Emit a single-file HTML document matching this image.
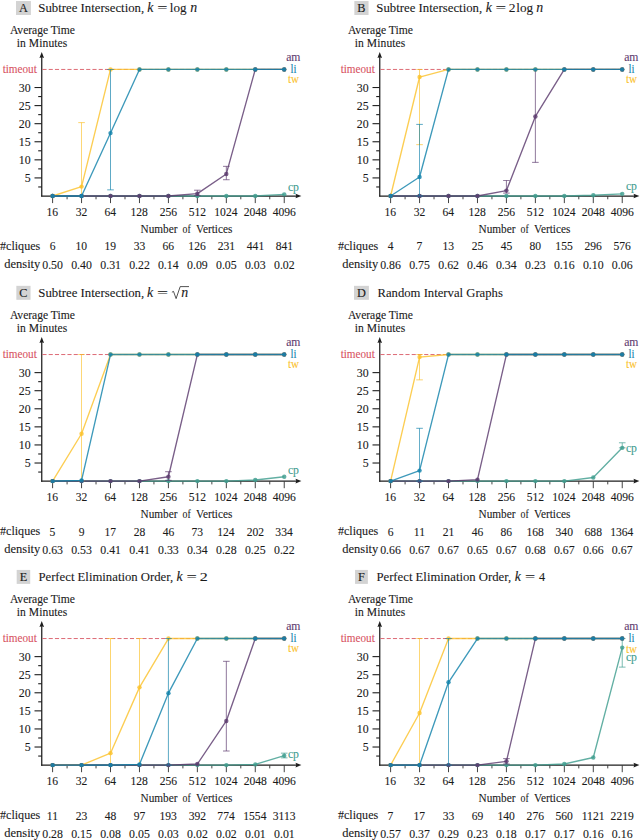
<!DOCTYPE html>
<html><head><meta charset="utf-8"><style>
html,body{margin:0;padding:0;background:#fff;width:640px;height:840px;overflow:hidden}
svg{display:block}
text{font-family:"Liberation Serif", serif}
</style></head><body>
<svg width="640" height="840" viewBox="0 0 640 840" fill="#1a1a1a">
<rect x="16.01" y="1.03" width="14.88" height="13.97" fill="#d3d3d3"/>
<text x="23.45" y="11.8" font-size="12.3" text-anchor="middle" stroke="#1a1a1a" stroke-width="0.12">A</text>
<text x="38.34" y="12" font-size="13.2" textLength="105.86" lengthAdjust="spacingAndGlyphs" stroke="#1a1a1a" stroke-width="0.1">Subtree Intersection,</text>
<text x="147.27" y="12" font-size="13.86" textLength="6.15" lengthAdjust="spacingAndGlyphs" font-style="italic" stroke="#1a1a1a" stroke-width="0.1">k</text>
<text x="157.3" y="12" font-size="13.2" textLength="10.19" lengthAdjust="spacingAndGlyphs" stroke="#1a1a1a" stroke-width="0.1">=</text>
<text x="169.84" y="12" font-size="13.2" textLength="16.73" lengthAdjust="spacingAndGlyphs" stroke="#1a1a1a" stroke-width="0.1">log</text>
<text x="190.14" y="12" font-size="13.86" textLength="6.93" lengthAdjust="spacingAndGlyphs" font-style="italic" stroke="#1a1a1a" stroke-width="0.1">n</text>
<text x="9.88" y="34.1" font-size="11.6" textLength="64.92" lengthAdjust="spacing" stroke="#1a1a1a" stroke-width="0.1">Average Time</text>
<text x="16.66" y="46.7" font-size="11.6" textLength="50.66" lengthAdjust="spacing" stroke="#1a1a1a" stroke-width="0.1">in Minutes</text>
<line x1="41.75" y1="196.6" x2="41.75" y2="56" stroke="#1e1e1e" stroke-width="1.25"/>
<path d="M41.75 52 L39.45 58 L41.75 57.2 L44.05 58 Z" fill="#1e1e1e"/>
<line x1="41.15" y1="196" x2="297" y2="196" stroke="#1e1e1e" stroke-width="1.25"/>
<path d="M301.4 196 L295.5 193.7 L296.3 196 L295.5 198.3 Z" fill="#1e1e1e"/>
<line x1="38.2" y1="186.96" x2="41.75" y2="186.96" stroke="#1e1e1e" stroke-width="1.1"/>
<line x1="34.5" y1="177.92" x2="41.75" y2="177.92" stroke="#1e1e1e" stroke-width="1.1"/>
<text x="24.69" y="182.12" font-size="12.9" textLength="5.93" lengthAdjust="spacingAndGlyphs" stroke="#1a1a1a" stroke-width="0.1">5</text>
<line x1="38.2" y1="168.88" x2="41.75" y2="168.88" stroke="#1e1e1e" stroke-width="1.1"/>
<line x1="34.5" y1="159.84" x2="41.75" y2="159.84" stroke="#1e1e1e" stroke-width="1.1"/>
<text x="18.73" y="164.04" font-size="12.9" textLength="11.87" lengthAdjust="spacingAndGlyphs" stroke="#1a1a1a" stroke-width="0.1">10</text>
<line x1="38.2" y1="150.8" x2="41.75" y2="150.8" stroke="#1e1e1e" stroke-width="1.1"/>
<line x1="34.5" y1="141.76" x2="41.75" y2="141.76" stroke="#1e1e1e" stroke-width="1.1"/>
<text x="18.76" y="145.96" font-size="12.9" textLength="11.87" lengthAdjust="spacingAndGlyphs" stroke="#1a1a1a" stroke-width="0.1">15</text>
<line x1="38.2" y1="132.72" x2="41.75" y2="132.72" stroke="#1e1e1e" stroke-width="1.1"/>
<line x1="34.5" y1="123.68" x2="41.75" y2="123.68" stroke="#1e1e1e" stroke-width="1.1"/>
<text x="18.73" y="127.88" font-size="12.9" textLength="11.87" lengthAdjust="spacingAndGlyphs" stroke="#1a1a1a" stroke-width="0.1">20</text>
<line x1="38.2" y1="114.64" x2="41.75" y2="114.64" stroke="#1e1e1e" stroke-width="1.1"/>
<line x1="34.5" y1="105.6" x2="41.75" y2="105.6" stroke="#1e1e1e" stroke-width="1.1"/>
<text x="18.76" y="109.8" font-size="12.9" textLength="11.87" lengthAdjust="spacingAndGlyphs" stroke="#1a1a1a" stroke-width="0.1">25</text>
<line x1="38.2" y1="96.56" x2="41.75" y2="96.56" stroke="#1e1e1e" stroke-width="1.1"/>
<line x1="34.5" y1="87.52" x2="41.75" y2="87.52" stroke="#1e1e1e" stroke-width="1.1"/>
<text x="18.73" y="91.72" font-size="12.9" textLength="11.87" lengthAdjust="spacingAndGlyphs" stroke="#1a1a1a" stroke-width="0.1">30</text>
<line x1="52.6" y1="196" x2="52.6" y2="203.1" stroke="#3a3a3a" stroke-width="0.95"/>
<text x="46.46" y="215.8" font-size="12.9" textLength="11.61" lengthAdjust="spacingAndGlyphs" stroke="#1a1a1a" stroke-width="0.1">16</text>
<line x1="67.08" y1="196" x2="67.08" y2="199.3" stroke="#3a3a3a" stroke-width="0.95"/>
<line x1="81.56" y1="196" x2="81.56" y2="203.1" stroke="#3a3a3a" stroke-width="0.95"/>
<text x="75.79" y="215.8" font-size="12.9" textLength="11.61" lengthAdjust="spacingAndGlyphs" stroke="#1a1a1a" stroke-width="0.1">32</text>
<line x1="96.03" y1="196" x2="96.03" y2="199.3" stroke="#3a3a3a" stroke-width="0.95"/>
<line x1="110.51" y1="196" x2="110.51" y2="203.1" stroke="#3a3a3a" stroke-width="0.95"/>
<text x="104.55" y="215.8" font-size="12.9" textLength="11.61" lengthAdjust="spacingAndGlyphs" stroke="#1a1a1a" stroke-width="0.1">64</text>
<line x1="124.99" y1="196" x2="124.99" y2="199.3" stroke="#3a3a3a" stroke-width="0.95"/>
<line x1="139.47" y1="196" x2="139.47" y2="203.1" stroke="#3a3a3a" stroke-width="0.95"/>
<text x="130.47" y="215.8" font-size="12.9" textLength="17.42" lengthAdjust="spacingAndGlyphs" stroke="#1a1a1a" stroke-width="0.1">128</text>
<line x1="153.94" y1="196" x2="153.94" y2="199.3" stroke="#3a3a3a" stroke-width="0.95"/>
<line x1="168.42" y1="196" x2="168.42" y2="203.1" stroke="#3a3a3a" stroke-width="0.95"/>
<text x="159.63" y="215.8" font-size="12.9" textLength="17.41" lengthAdjust="spacingAndGlyphs" stroke="#1a1a1a" stroke-width="0.1">256</text>
<line x1="182.9" y1="196" x2="182.9" y2="199.3" stroke="#3a3a3a" stroke-width="0.95"/>
<line x1="197.37" y1="196" x2="197.37" y2="203.1" stroke="#3a3a3a" stroke-width="0.95"/>
<text x="188.65" y="215.8" font-size="12.9" textLength="17.42" lengthAdjust="spacingAndGlyphs" stroke="#1a1a1a" stroke-width="0.1">512</text>
<line x1="211.85" y1="196" x2="211.85" y2="199.3" stroke="#3a3a3a" stroke-width="0.95"/>
<line x1="226.33" y1="196" x2="226.33" y2="203.1" stroke="#3a3a3a" stroke-width="0.95"/>
<text x="214.3" y="215.8" font-size="12.9" textLength="23.22" lengthAdjust="spacingAndGlyphs" stroke="#1a1a1a" stroke-width="0.1">1024</text>
<line x1="240.81" y1="196" x2="240.81" y2="199.3" stroke="#3a3a3a" stroke-width="0.95"/>
<line x1="255.28" y1="196" x2="255.28" y2="203.1" stroke="#3a3a3a" stroke-width="0.95"/>
<text x="243.63" y="215.8" font-size="12.9" textLength="23.22" lengthAdjust="spacingAndGlyphs" stroke="#1a1a1a" stroke-width="0.1">2048</text>
<line x1="269.76" y1="196" x2="269.76" y2="199.3" stroke="#3a3a3a" stroke-width="0.95"/>
<line x1="284.24" y1="196" x2="284.24" y2="203.1" stroke="#3a3a3a" stroke-width="0.95"/>
<text x="272.69" y="215.8" font-size="12.9" textLength="23.22" lengthAdjust="spacingAndGlyphs" stroke="#1a1a1a" stroke-width="0.1">4096</text>
<text x="140.56" y="232.5" font-size="11.6" textLength="36.92" lengthAdjust="spacingAndGlyphs" stroke="#1a1a1a" stroke-width="0.1">Number</text>
<text x="182.53" y="232.5" font-size="11.6" textLength="8.17" lengthAdjust="spacingAndGlyphs" stroke="#1a1a1a" stroke-width="0.1">of</text>
<text x="196.06" y="232.5" font-size="11.6" textLength="36.35" lengthAdjust="spacingAndGlyphs" stroke="#1a1a1a" stroke-width="0.1">Vertices</text>
<text x="-0.01" y="250.1" font-size="12.2" textLength="40.22" lengthAdjust="spacingAndGlyphs" stroke="#1a1a1a" stroke-width="0.1">#cliques</text>
<text x="4.26" y="268" font-size="12.2" textLength="36.08" lengthAdjust="spacingAndGlyphs" stroke="#1a1a1a" stroke-width="0.1">density</text>
<text x="49.63" y="250.4" font-size="12.6" textLength="5.8" lengthAdjust="spacingAndGlyphs" stroke="#1a1a1a" stroke-width="0.1">6</text>
<text x="75.47" y="250.4" font-size="12.6" textLength="11.59" lengthAdjust="spacingAndGlyphs" stroke="#1a1a1a" stroke-width="0.1">10</text>
<text x="104.44" y="250.4" font-size="12.6" textLength="11.59" lengthAdjust="spacingAndGlyphs" stroke="#1a1a1a" stroke-width="0.1">19</text>
<text x="133.63" y="250.4" font-size="12.6" textLength="11.59" lengthAdjust="spacingAndGlyphs" stroke="#1a1a1a" stroke-width="0.1">33</text>
<text x="162.55" y="250.4" font-size="12.6" textLength="11.59" lengthAdjust="spacingAndGlyphs" stroke="#1a1a1a" stroke-width="0.1">66</text>
<text x="188.35" y="250.4" font-size="12.6" textLength="17.39" lengthAdjust="spacingAndGlyphs" stroke="#1a1a1a" stroke-width="0.1">126</text>
<text x="217.72" y="250.4" font-size="12.6" textLength="17.39" lengthAdjust="spacingAndGlyphs" stroke="#1a1a1a" stroke-width="0.1">231</text>
<text x="246.82" y="250.4" font-size="12.6" textLength="17.39" lengthAdjust="spacingAndGlyphs" stroke="#1a1a1a" stroke-width="0.1">441</text>
<text x="275.68" y="250.4" font-size="12.6" textLength="17.39" lengthAdjust="spacingAndGlyphs" stroke="#1a1a1a" stroke-width="0.1">841</text>
<text x="42.24" y="268.5" font-size="12.6" textLength="20.73" lengthAdjust="spacingAndGlyphs" stroke="#1a1a1a" stroke-width="0.1">0.50</text>
<text x="71.19" y="268.5" font-size="12.6" textLength="20.73" lengthAdjust="spacingAndGlyphs" stroke="#1a1a1a" stroke-width="0.1">0.40</text>
<text x="100.28" y="268.5" font-size="12.6" textLength="20.73" lengthAdjust="spacingAndGlyphs" stroke="#1a1a1a" stroke-width="0.1">0.31</text>
<text x="129.21" y="268.5" font-size="12.6" textLength="20.73" lengthAdjust="spacingAndGlyphs" stroke="#1a1a1a" stroke-width="0.1">0.22</text>
<text x="157.92" y="268.5" font-size="12.6" textLength="20.73" lengthAdjust="spacingAndGlyphs" stroke="#1a1a1a" stroke-width="0.1">0.14</text>
<text x="187.03" y="268.5" font-size="12.6" textLength="20.73" lengthAdjust="spacingAndGlyphs" stroke="#1a1a1a" stroke-width="0.1">0.09</text>
<text x="215.98" y="268.5" font-size="12.6" textLength="20.73" lengthAdjust="spacingAndGlyphs" stroke="#1a1a1a" stroke-width="0.1">0.05</text>
<text x="244.94" y="268.5" font-size="12.6" textLength="20.73" lengthAdjust="spacingAndGlyphs" stroke="#1a1a1a" stroke-width="0.1">0.03</text>
<text x="273.98" y="268.5" font-size="12.6" textLength="20.73" lengthAdjust="spacingAndGlyphs" stroke="#1a1a1a" stroke-width="0.1">0.02</text>
<text x="2.64" y="73.3" font-size="12.2" textLength="34.22" lengthAdjust="spacingAndGlyphs" fill="#d8535f" stroke="#d8535f" stroke-width="0.1">timeout</text>
<polyline points="52.6,196 81.56,196 110.51,196 139.47,196 168.42,196 197.37,196 226.33,196 255.28,196 284.24,194.37" fill="none" stroke="#3f9d8f" stroke-width="1.35" stroke-linejoin="round" opacity="0.82"/>
<circle cx="52.6" cy="196" r="2.2" fill="#3f9d8f" opacity="0.82"/>
<circle cx="81.56" cy="196" r="2.2" fill="#3f9d8f" opacity="0.82"/>
<circle cx="110.51" cy="196" r="2.2" fill="#3f9d8f" opacity="0.82"/>
<circle cx="139.47" cy="196" r="2.2" fill="#3f9d8f" opacity="0.82"/>
<circle cx="168.42" cy="196" r="2.2" fill="#3f9d8f" opacity="0.82"/>
<circle cx="197.37" cy="196" r="2.2" fill="#3f9d8f" opacity="0.82"/>
<circle cx="226.33" cy="196" r="2.2" fill="#3f9d8f" opacity="0.82"/>
<circle cx="255.28" cy="196" r="2.2" fill="#3f9d8f" opacity="0.82"/>
<circle cx="284.24" cy="194.37" r="2.2" fill="#3f9d8f" opacity="0.82"/>
<line x1="42.45" y1="69.44" x2="284.24" y2="69.44" stroke="#d8535f" stroke-width="1" stroke-dasharray="4.1 2.15" opacity="0.85"/>
<line x1="81.56" y1="196" x2="81.56" y2="122.6" stroke="#fbc22c" stroke-width="0.85" opacity="0.8"/>
<line x1="78.26" y1="196" x2="84.86" y2="196" stroke="#fbc22c" stroke-width="0.85" opacity="0.8"/>
<line x1="78.26" y1="122.6" x2="84.86" y2="122.6" stroke="#fbc22c" stroke-width="0.85" opacity="0.8"/>
<polyline points="52.6,196 81.56,186.6 110.51,69.44 139.47,69.44 168.42,69.44 197.37,69.44 226.33,69.44 255.28,69.44 284.24,69.44" fill="none" stroke="#fbc22c" stroke-width="1.35" stroke-linejoin="round" opacity="0.82"/>
<circle cx="52.6" cy="196" r="2.2" fill="#fbc22c" opacity="0.82"/>
<circle cx="81.56" cy="186.6" r="2.2" fill="#fbc22c" opacity="0.82"/>
<circle cx="110.51" cy="69.44" r="2.2" fill="#fbc22c" opacity="0.82"/>
<circle cx="139.47" cy="69.44" r="2.2" fill="#fbc22c" opacity="0.82"/>
<circle cx="168.42" cy="69.44" r="2.2" fill="#fbc22c" opacity="0.82"/>
<circle cx="197.37" cy="69.44" r="2.2" fill="#fbc22c" opacity="0.82"/>
<circle cx="226.33" cy="69.44" r="2.2" fill="#fbc22c" opacity="0.82"/>
<circle cx="255.28" cy="69.44" r="2.2" fill="#fbc22c" opacity="0.82"/>
<circle cx="284.24" cy="69.44" r="2.2" fill="#fbc22c" opacity="0.82"/>
<line x1="197.37" y1="195.64" x2="197.37" y2="190.21" stroke="#5c3a6e" stroke-width="0.85" opacity="0.8"/>
<line x1="194.07" y1="195.64" x2="200.67" y2="195.64" stroke="#5c3a6e" stroke-width="0.85" opacity="0.8"/>
<line x1="194.07" y1="190.21" x2="200.67" y2="190.21" stroke="#5c3a6e" stroke-width="0.85" opacity="0.8"/>
<line x1="226.33" y1="179.73" x2="226.33" y2="166.35" stroke="#5c3a6e" stroke-width="0.85" opacity="0.8"/>
<line x1="223.03" y1="179.73" x2="229.63" y2="179.73" stroke="#5c3a6e" stroke-width="0.85" opacity="0.8"/>
<line x1="223.03" y1="166.35" x2="229.63" y2="166.35" stroke="#5c3a6e" stroke-width="0.85" opacity="0.8"/>
<polyline points="52.6,196 81.56,196 110.51,196 139.47,196 168.42,196 197.37,193.65 226.33,173.94 255.28,69.44 284.24,69.44" fill="none" stroke="#5c3a6e" stroke-width="1.35" stroke-linejoin="round" opacity="0.82"/>
<circle cx="52.6" cy="196" r="2.2" fill="#5c3a6e" opacity="0.82"/>
<circle cx="81.56" cy="196" r="2.2" fill="#5c3a6e" opacity="0.82"/>
<circle cx="110.51" cy="196" r="2.2" fill="#5c3a6e" opacity="0.82"/>
<circle cx="139.47" cy="196" r="2.2" fill="#5c3a6e" opacity="0.82"/>
<circle cx="168.42" cy="196" r="2.2" fill="#5c3a6e" opacity="0.82"/>
<circle cx="197.37" cy="193.65" r="2.2" fill="#5c3a6e" opacity="0.82"/>
<circle cx="226.33" cy="173.94" r="2.2" fill="#5c3a6e" opacity="0.82"/>
<circle cx="255.28" cy="69.44" r="2.2" fill="#5c3a6e" opacity="0.82"/>
<circle cx="284.24" cy="69.44" r="2.2" fill="#5c3a6e" opacity="0.82"/>
<line x1="110.51" y1="189.85" x2="110.51" y2="69.44" stroke="#1283ab" stroke-width="0.85" opacity="0.8"/>
<line x1="107.21" y1="189.85" x2="113.81" y2="189.85" stroke="#1283ab" stroke-width="0.85" opacity="0.8"/>
<line x1="107.21" y1="69.44" x2="113.81" y2="69.44" stroke="#1283ab" stroke-width="0.85" opacity="0.8"/>
<polyline points="52.6,196 81.56,196 110.51,133.08 139.47,69.44 168.42,69.44 197.37,69.44 226.33,69.44 255.28,69.44 284.24,69.44" fill="none" stroke="#1283ab" stroke-width="1.35" stroke-linejoin="round" opacity="0.82"/>
<circle cx="52.6" cy="196" r="2.2" fill="#1283ab" opacity="0.82"/>
<circle cx="81.56" cy="196" r="2.2" fill="#1283ab" opacity="0.82"/>
<circle cx="110.51" cy="133.08" r="2.2" fill="#1283ab" opacity="0.82"/>
<circle cx="139.47" cy="69.44" r="2.2" fill="#1283ab" opacity="0.82"/>
<circle cx="168.42" cy="69.44" r="2.2" fill="#1283ab" opacity="0.82"/>
<circle cx="197.37" cy="69.44" r="2.2" fill="#1283ab" opacity="0.82"/>
<circle cx="226.33" cy="69.44" r="2.2" fill="#1283ab" opacity="0.82"/>
<circle cx="255.28" cy="69.44" r="2.2" fill="#1283ab" opacity="0.82"/>
<circle cx="284.24" cy="69.44" r="2.2" fill="#1283ab" opacity="0.82"/>
<text x="286.19" y="60.7" font-size="12" textLength="14.28" lengthAdjust="spacingAndGlyphs" fill="#5c3a6e" stroke="#5c3a6e" stroke-width="0.1">am</text>
<text x="290.43" y="73.3" font-size="12" textLength="6.01" lengthAdjust="spacingAndGlyphs" fill="#1283ab" stroke="#1283ab" stroke-width="0.1">li</text>
<text x="287.94" y="83.2" font-size="11.8" textLength="10.96" lengthAdjust="spacingAndGlyphs" fill="#fbc22c" stroke="#fbc22c" stroke-width="0.1">tw</text>
<text x="287.91" y="190.9" font-size="11.8" textLength="11.1" lengthAdjust="spacingAndGlyphs" fill="#3f9d8f" stroke="#3f9d8f" stroke-width="0.1">cp</text>
<rect x="354.35" y="1.03" width="14.2" height="13.97" fill="#d3d3d3"/>
<text x="361.45" y="11.8" font-size="12.3" text-anchor="middle" stroke="#1a1a1a" stroke-width="0.12">B</text>
<text x="376.34" y="12" font-size="13.2" textLength="105.86" lengthAdjust="spacingAndGlyphs" stroke="#1a1a1a" stroke-width="0.1">Subtree Intersection,</text>
<text x="485.77" y="12" font-size="13.86" textLength="6.15" lengthAdjust="spacingAndGlyphs" font-style="italic" stroke="#1a1a1a" stroke-width="0.1">k</text>
<text x="495.56" y="12" font-size="13.2" textLength="10.61" lengthAdjust="spacingAndGlyphs" stroke="#1a1a1a" stroke-width="0.1">=</text>
<text x="508.89" y="12" font-size="13.2" textLength="6.75" lengthAdjust="spacingAndGlyphs" stroke="#1a1a1a" stroke-width="0.1">2</text>
<text x="516.23" y="12" font-size="13.2" textLength="16.93" lengthAdjust="spacingAndGlyphs" stroke="#1a1a1a" stroke-width="0.1">log</text>
<text x="536.29" y="12" font-size="13.86" textLength="6.93" lengthAdjust="spacingAndGlyphs" font-style="italic" stroke="#1a1a1a" stroke-width="0.1">n</text>
<text x="347.88" y="34.1" font-size="11.6" textLength="64.92" lengthAdjust="spacing" stroke="#1a1a1a" stroke-width="0.1">Average Time</text>
<text x="354.66" y="46.7" font-size="11.6" textLength="50.66" lengthAdjust="spacing" stroke="#1a1a1a" stroke-width="0.1">in Minutes</text>
<line x1="379.75" y1="196.6" x2="379.75" y2="56" stroke="#1e1e1e" stroke-width="1.25"/>
<path d="M379.75 52 L377.45 58 L379.75 57.2 L382.05 58 Z" fill="#1e1e1e"/>
<line x1="379.15" y1="196" x2="635" y2="196" stroke="#1e1e1e" stroke-width="1.25"/>
<path d="M639.4 196 L633.5 193.7 L634.3 196 L633.5 198.3 Z" fill="#1e1e1e"/>
<line x1="376.2" y1="186.96" x2="379.75" y2="186.96" stroke="#1e1e1e" stroke-width="1.1"/>
<line x1="372.5" y1="177.92" x2="379.75" y2="177.92" stroke="#1e1e1e" stroke-width="1.1"/>
<text x="362.69" y="182.12" font-size="12.9" textLength="5.93" lengthAdjust="spacingAndGlyphs" stroke="#1a1a1a" stroke-width="0.1">5</text>
<line x1="376.2" y1="168.88" x2="379.75" y2="168.88" stroke="#1e1e1e" stroke-width="1.1"/>
<line x1="372.5" y1="159.84" x2="379.75" y2="159.84" stroke="#1e1e1e" stroke-width="1.1"/>
<text x="356.73" y="164.04" font-size="12.9" textLength="11.87" lengthAdjust="spacingAndGlyphs" stroke="#1a1a1a" stroke-width="0.1">10</text>
<line x1="376.2" y1="150.8" x2="379.75" y2="150.8" stroke="#1e1e1e" stroke-width="1.1"/>
<line x1="372.5" y1="141.76" x2="379.75" y2="141.76" stroke="#1e1e1e" stroke-width="1.1"/>
<text x="356.76" y="145.96" font-size="12.9" textLength="11.87" lengthAdjust="spacingAndGlyphs" stroke="#1a1a1a" stroke-width="0.1">15</text>
<line x1="376.2" y1="132.72" x2="379.75" y2="132.72" stroke="#1e1e1e" stroke-width="1.1"/>
<line x1="372.5" y1="123.68" x2="379.75" y2="123.68" stroke="#1e1e1e" stroke-width="1.1"/>
<text x="356.73" y="127.88" font-size="12.9" textLength="11.87" lengthAdjust="spacingAndGlyphs" stroke="#1a1a1a" stroke-width="0.1">20</text>
<line x1="376.2" y1="114.64" x2="379.75" y2="114.64" stroke="#1e1e1e" stroke-width="1.1"/>
<line x1="372.5" y1="105.6" x2="379.75" y2="105.6" stroke="#1e1e1e" stroke-width="1.1"/>
<text x="356.76" y="109.8" font-size="12.9" textLength="11.87" lengthAdjust="spacingAndGlyphs" stroke="#1a1a1a" stroke-width="0.1">25</text>
<line x1="376.2" y1="96.56" x2="379.75" y2="96.56" stroke="#1e1e1e" stroke-width="1.1"/>
<line x1="372.5" y1="87.52" x2="379.75" y2="87.52" stroke="#1e1e1e" stroke-width="1.1"/>
<text x="356.73" y="91.72" font-size="12.9" textLength="11.87" lengthAdjust="spacingAndGlyphs" stroke="#1a1a1a" stroke-width="0.1">30</text>
<line x1="390.6" y1="196" x2="390.6" y2="203.1" stroke="#3a3a3a" stroke-width="0.95"/>
<text x="384.46" y="215.8" font-size="12.9" textLength="11.61" lengthAdjust="spacingAndGlyphs" stroke="#1a1a1a" stroke-width="0.1">16</text>
<line x1="405.08" y1="196" x2="405.08" y2="199.3" stroke="#3a3a3a" stroke-width="0.95"/>
<line x1="419.56" y1="196" x2="419.56" y2="203.1" stroke="#3a3a3a" stroke-width="0.95"/>
<text x="413.79" y="215.8" font-size="12.9" textLength="11.61" lengthAdjust="spacingAndGlyphs" stroke="#1a1a1a" stroke-width="0.1">32</text>
<line x1="434.03" y1="196" x2="434.03" y2="199.3" stroke="#3a3a3a" stroke-width="0.95"/>
<line x1="448.51" y1="196" x2="448.51" y2="203.1" stroke="#3a3a3a" stroke-width="0.95"/>
<text x="442.55" y="215.8" font-size="12.9" textLength="11.61" lengthAdjust="spacingAndGlyphs" stroke="#1a1a1a" stroke-width="0.1">64</text>
<line x1="462.99" y1="196" x2="462.99" y2="199.3" stroke="#3a3a3a" stroke-width="0.95"/>
<line x1="477.47" y1="196" x2="477.47" y2="203.1" stroke="#3a3a3a" stroke-width="0.95"/>
<text x="468.47" y="215.8" font-size="12.9" textLength="17.42" lengthAdjust="spacingAndGlyphs" stroke="#1a1a1a" stroke-width="0.1">128</text>
<line x1="491.94" y1="196" x2="491.94" y2="199.3" stroke="#3a3a3a" stroke-width="0.95"/>
<line x1="506.42" y1="196" x2="506.42" y2="203.1" stroke="#3a3a3a" stroke-width="0.95"/>
<text x="497.63" y="215.8" font-size="12.9" textLength="17.42" lengthAdjust="spacingAndGlyphs" stroke="#1a1a1a" stroke-width="0.1">256</text>
<line x1="520.9" y1="196" x2="520.9" y2="199.3" stroke="#3a3a3a" stroke-width="0.95"/>
<line x1="535.38" y1="196" x2="535.38" y2="203.1" stroke="#3a3a3a" stroke-width="0.95"/>
<text x="526.65" y="215.8" font-size="12.9" textLength="17.41" lengthAdjust="spacingAndGlyphs" stroke="#1a1a1a" stroke-width="0.1">512</text>
<line x1="549.85" y1="196" x2="549.85" y2="199.3" stroke="#3a3a3a" stroke-width="0.95"/>
<line x1="564.33" y1="196" x2="564.33" y2="203.1" stroke="#3a3a3a" stroke-width="0.95"/>
<text x="552.3" y="215.8" font-size="12.9" textLength="23.22" lengthAdjust="spacingAndGlyphs" stroke="#1a1a1a" stroke-width="0.1">1024</text>
<line x1="578.81" y1="196" x2="578.81" y2="199.3" stroke="#3a3a3a" stroke-width="0.95"/>
<line x1="593.29" y1="196" x2="593.29" y2="203.1" stroke="#3a3a3a" stroke-width="0.95"/>
<text x="581.63" y="215.8" font-size="12.9" textLength="23.22" lengthAdjust="spacingAndGlyphs" stroke="#1a1a1a" stroke-width="0.1">2048</text>
<line x1="607.76" y1="196" x2="607.76" y2="199.3" stroke="#3a3a3a" stroke-width="0.95"/>
<line x1="622.24" y1="196" x2="622.24" y2="203.1" stroke="#3a3a3a" stroke-width="0.95"/>
<text x="610.69" y="215.8" font-size="12.9" textLength="23.22" lengthAdjust="spacingAndGlyphs" stroke="#1a1a1a" stroke-width="0.1">4096</text>
<text x="478.56" y="232.5" font-size="11.6" textLength="36.92" lengthAdjust="spacingAndGlyphs" stroke="#1a1a1a" stroke-width="0.1">Number</text>
<text x="520.53" y="232.5" font-size="11.6" textLength="8.17" lengthAdjust="spacingAndGlyphs" stroke="#1a1a1a" stroke-width="0.1">of</text>
<text x="534.06" y="232.5" font-size="11.6" textLength="36.35" lengthAdjust="spacingAndGlyphs" stroke="#1a1a1a" stroke-width="0.1">Vertices</text>
<text x="337.99" y="250.1" font-size="12.2" textLength="40.22" lengthAdjust="spacingAndGlyphs" stroke="#1a1a1a" stroke-width="0.1">#cliques</text>
<text x="342.26" y="268" font-size="12.2" textLength="36.08" lengthAdjust="spacingAndGlyphs" stroke="#1a1a1a" stroke-width="0.1">density</text>
<text x="387.67" y="250.4" font-size="12.6" textLength="5.8" lengthAdjust="spacingAndGlyphs" stroke="#1a1a1a" stroke-width="0.1">4</text>
<text x="416.45" y="250.4" font-size="12.6" textLength="5.8" lengthAdjust="spacingAndGlyphs" stroke="#1a1a1a" stroke-width="0.1">7</text>
<text x="442.44" y="250.4" font-size="12.6" textLength="11.59" lengthAdjust="spacingAndGlyphs" stroke="#1a1a1a" stroke-width="0.1">13</text>
<text x="471.64" y="250.4" font-size="12.6" textLength="11.59" lengthAdjust="spacingAndGlyphs" stroke="#1a1a1a" stroke-width="0.1">25</text>
<text x="500.74" y="250.4" font-size="12.6" textLength="11.59" lengthAdjust="spacingAndGlyphs" stroke="#1a1a1a" stroke-width="0.1">45</text>
<text x="529.58" y="250.4" font-size="12.6" textLength="11.59" lengthAdjust="spacingAndGlyphs" stroke="#1a1a1a" stroke-width="0.1">80</text>
<text x="555.36" y="250.4" font-size="12.6" textLength="17.39" lengthAdjust="spacingAndGlyphs" stroke="#1a1a1a" stroke-width="0.1">155</text>
<text x="584.5" y="250.4" font-size="12.6" textLength="17.39" lengthAdjust="spacingAndGlyphs" stroke="#1a1a1a" stroke-width="0.1">296</text>
<text x="613.39" y="250.4" font-size="12.6" textLength="17.39" lengthAdjust="spacingAndGlyphs" stroke="#1a1a1a" stroke-width="0.1">576</text>
<text x="380.19" y="268.5" font-size="12.6" textLength="20.73" lengthAdjust="spacingAndGlyphs" stroke="#1a1a1a" stroke-width="0.1">0.86</text>
<text x="409.21" y="268.5" font-size="12.6" textLength="20.73" lengthAdjust="spacingAndGlyphs" stroke="#1a1a1a" stroke-width="0.1">0.75</text>
<text x="438.25" y="268.5" font-size="12.6" textLength="20.73" lengthAdjust="spacingAndGlyphs" stroke="#1a1a1a" stroke-width="0.1">0.62</text>
<text x="467.06" y="268.5" font-size="12.6" textLength="20.73" lengthAdjust="spacingAndGlyphs" stroke="#1a1a1a" stroke-width="0.1">0.46</text>
<text x="495.92" y="268.5" font-size="12.6" textLength="20.73" lengthAdjust="spacingAndGlyphs" stroke="#1a1a1a" stroke-width="0.1">0.34</text>
<text x="525.03" y="268.5" font-size="12.6" textLength="20.73" lengthAdjust="spacingAndGlyphs" stroke="#1a1a1a" stroke-width="0.1">0.23</text>
<text x="553.92" y="268.5" font-size="12.6" textLength="20.73" lengthAdjust="spacingAndGlyphs" stroke="#1a1a1a" stroke-width="0.1">0.16</text>
<text x="582.92" y="268.5" font-size="12.6" textLength="20.73" lengthAdjust="spacingAndGlyphs" stroke="#1a1a1a" stroke-width="0.1">0.10</text>
<text x="611.83" y="268.5" font-size="12.6" textLength="20.73" lengthAdjust="spacingAndGlyphs" stroke="#1a1a1a" stroke-width="0.1">0.06</text>
<text x="340.64" y="73.3" font-size="12.2" textLength="34.22" lengthAdjust="spacingAndGlyphs" fill="#d8535f" stroke="#d8535f" stroke-width="0.1">timeout</text>
<polyline points="390.6,196 419.56,196 448.51,196 477.47,196 506.42,196 535.38,196 564.33,196 593.29,195.28 622.24,193.83" fill="none" stroke="#3f9d8f" stroke-width="1.35" stroke-linejoin="round" opacity="0.82"/>
<circle cx="390.6" cy="196" r="2.2" fill="#3f9d8f" opacity="0.82"/>
<circle cx="419.56" cy="196" r="2.2" fill="#3f9d8f" opacity="0.82"/>
<circle cx="448.51" cy="196" r="2.2" fill="#3f9d8f" opacity="0.82"/>
<circle cx="477.47" cy="196" r="2.2" fill="#3f9d8f" opacity="0.82"/>
<circle cx="506.42" cy="196" r="2.2" fill="#3f9d8f" opacity="0.82"/>
<circle cx="535.38" cy="196" r="2.2" fill="#3f9d8f" opacity="0.82"/>
<circle cx="564.33" cy="196" r="2.2" fill="#3f9d8f" opacity="0.82"/>
<circle cx="593.29" cy="195.28" r="2.2" fill="#3f9d8f" opacity="0.82"/>
<circle cx="622.24" cy="193.83" r="2.2" fill="#3f9d8f" opacity="0.82"/>
<line x1="380.45" y1="69.44" x2="622.24" y2="69.44" stroke="#d8535f" stroke-width="1" stroke-dasharray="4.1 2.15" opacity="0.85"/>
<line x1="419.56" y1="144.65" x2="419.56" y2="69.44" stroke="#fbc22c" stroke-width="0.85" opacity="0.8"/>
<line x1="416.25" y1="144.65" x2="422.86" y2="144.65" stroke="#fbc22c" stroke-width="0.85" opacity="0.8"/>
<line x1="416.25" y1="69.44" x2="422.86" y2="69.44" stroke="#fbc22c" stroke-width="0.85" opacity="0.8"/>
<polyline points="390.6,196 419.56,77.03 448.51,69.44 477.47,69.44 506.42,69.44 535.38,69.44 564.33,69.44 593.29,69.44 622.24,69.44" fill="none" stroke="#fbc22c" stroke-width="1.35" stroke-linejoin="round" opacity="0.82"/>
<circle cx="390.6" cy="196" r="2.2" fill="#fbc22c" opacity="0.82"/>
<circle cx="419.56" cy="77.03" r="2.2" fill="#fbc22c" opacity="0.82"/>
<circle cx="448.51" cy="69.44" r="2.2" fill="#fbc22c" opacity="0.82"/>
<circle cx="477.47" cy="69.44" r="2.2" fill="#fbc22c" opacity="0.82"/>
<circle cx="506.42" cy="69.44" r="2.2" fill="#fbc22c" opacity="0.82"/>
<circle cx="535.38" cy="69.44" r="2.2" fill="#fbc22c" opacity="0.82"/>
<circle cx="564.33" cy="69.44" r="2.2" fill="#fbc22c" opacity="0.82"/>
<circle cx="593.29" cy="69.44" r="2.2" fill="#fbc22c" opacity="0.82"/>
<circle cx="622.24" cy="69.44" r="2.2" fill="#fbc22c" opacity="0.82"/>
<line x1="506.42" y1="193.11" x2="506.42" y2="180.45" stroke="#5c3a6e" stroke-width="0.85" opacity="0.8"/>
<line x1="503.12" y1="193.11" x2="509.72" y2="193.11" stroke="#5c3a6e" stroke-width="0.85" opacity="0.8"/>
<line x1="503.12" y1="180.45" x2="509.72" y2="180.45" stroke="#5c3a6e" stroke-width="0.85" opacity="0.8"/>
<line x1="535.38" y1="162.37" x2="535.38" y2="69.44" stroke="#5c3a6e" stroke-width="0.85" opacity="0.8"/>
<line x1="532.08" y1="162.37" x2="538.67" y2="162.37" stroke="#5c3a6e" stroke-width="0.85" opacity="0.8"/>
<line x1="532.08" y1="69.44" x2="538.67" y2="69.44" stroke="#5c3a6e" stroke-width="0.85" opacity="0.8"/>
<polyline points="390.6,196 419.56,196 448.51,196 477.47,196 506.42,190.58 535.38,116.45 564.33,69.44 593.29,69.44 622.24,69.44" fill="none" stroke="#5c3a6e" stroke-width="1.35" stroke-linejoin="round" opacity="0.82"/>
<circle cx="390.6" cy="196" r="2.2" fill="#5c3a6e" opacity="0.82"/>
<circle cx="419.56" cy="196" r="2.2" fill="#5c3a6e" opacity="0.82"/>
<circle cx="448.51" cy="196" r="2.2" fill="#5c3a6e" opacity="0.82"/>
<circle cx="477.47" cy="196" r="2.2" fill="#5c3a6e" opacity="0.82"/>
<circle cx="506.42" cy="190.58" r="2.2" fill="#5c3a6e" opacity="0.82"/>
<circle cx="535.38" cy="116.45" r="2.2" fill="#5c3a6e" opacity="0.82"/>
<circle cx="564.33" cy="69.44" r="2.2" fill="#5c3a6e" opacity="0.82"/>
<circle cx="593.29" cy="69.44" r="2.2" fill="#5c3a6e" opacity="0.82"/>
<circle cx="622.24" cy="69.44" r="2.2" fill="#5c3a6e" opacity="0.82"/>
<line x1="419.56" y1="196" x2="419.56" y2="124.4" stroke="#1283ab" stroke-width="0.85" opacity="0.8"/>
<line x1="416.25" y1="196" x2="422.86" y2="196" stroke="#1283ab" stroke-width="0.85" opacity="0.8"/>
<line x1="416.25" y1="124.4" x2="422.86" y2="124.4" stroke="#1283ab" stroke-width="0.85" opacity="0.8"/>
<polyline points="390.6,196 419.56,177.02 448.51,69.44 477.47,69.44 506.42,69.44 535.38,69.44 564.33,69.44 593.29,69.44 622.24,69.44" fill="none" stroke="#1283ab" stroke-width="1.35" stroke-linejoin="round" opacity="0.82"/>
<circle cx="390.6" cy="196" r="2.2" fill="#1283ab" opacity="0.82"/>
<circle cx="419.56" cy="177.02" r="2.2" fill="#1283ab" opacity="0.82"/>
<circle cx="448.51" cy="69.44" r="2.2" fill="#1283ab" opacity="0.82"/>
<circle cx="477.47" cy="69.44" r="2.2" fill="#1283ab" opacity="0.82"/>
<circle cx="506.42" cy="69.44" r="2.2" fill="#1283ab" opacity="0.82"/>
<circle cx="535.38" cy="69.44" r="2.2" fill="#1283ab" opacity="0.82"/>
<circle cx="564.33" cy="69.44" r="2.2" fill="#1283ab" opacity="0.82"/>
<circle cx="593.29" cy="69.44" r="2.2" fill="#1283ab" opacity="0.82"/>
<circle cx="622.24" cy="69.44" r="2.2" fill="#1283ab" opacity="0.82"/>
<text x="624.19" y="60.7" font-size="12" textLength="14.28" lengthAdjust="spacingAndGlyphs" fill="#5c3a6e" stroke="#5c3a6e" stroke-width="0.1">am</text>
<text x="628.43" y="73.3" font-size="12" textLength="6.01" lengthAdjust="spacingAndGlyphs" fill="#1283ab" stroke="#1283ab" stroke-width="0.1">li</text>
<text x="625.94" y="83.2" font-size="11.8" textLength="10.96" lengthAdjust="spacingAndGlyphs" fill="#fbc22c" stroke="#fbc22c" stroke-width="0.1">tw</text>
<text x="625.91" y="190.3" font-size="11.8" textLength="11.1" lengthAdjust="spacingAndGlyphs" fill="#3f9d8f" stroke="#3f9d8f" stroke-width="0.1">cp</text>
<rect x="16.35" y="285.83" width="14.2" height="13.97" fill="#d3d3d3"/>
<text x="23.45" y="296.6" font-size="12.3" text-anchor="middle" stroke="#1a1a1a" stroke-width="0.12">C</text>
<text x="38.34" y="296.8" font-size="13.2" textLength="105.86" lengthAdjust="spacingAndGlyphs" stroke="#1a1a1a" stroke-width="0.1">Subtree Intersection,</text>
<text x="147.02" y="296.8" font-size="13.86" textLength="6.15" lengthAdjust="spacingAndGlyphs" font-style="italic" stroke="#1a1a1a" stroke-width="0.1">k</text>
<text x="157.12" y="296.8" font-size="13.2" textLength="11.04" lengthAdjust="spacingAndGlyphs" stroke="#1a1a1a" stroke-width="0.1">=</text>
<path d="M171.9 292.2 L173.5 291.4 L176.1 298.6 L180.2 286.6 L189 286.6" fill="none" stroke="#1a1a1a" stroke-width="0.75"/>
<text x="181.19" y="296.8" font-size="13.86" textLength="6.93" lengthAdjust="spacingAndGlyphs" font-style="italic" stroke="#1a1a1a" stroke-width="0.1">n</text>
<text x="9.88" y="319.2" font-size="11.6" textLength="64.92" lengthAdjust="spacing" stroke="#1a1a1a" stroke-width="0.1">Average Time</text>
<text x="16.66" y="331.8" font-size="11.6" textLength="50.66" lengthAdjust="spacing" stroke="#1a1a1a" stroke-width="0.1">in Minutes</text>
<line x1="41.75" y1="481.7" x2="41.75" y2="341.1" stroke="#1e1e1e" stroke-width="1.25"/>
<path d="M41.75 337.1 L39.45 343.1 L41.75 342.3 L44.05 343.1 Z" fill="#1e1e1e"/>
<line x1="41.15" y1="481.1" x2="297" y2="481.1" stroke="#1e1e1e" stroke-width="1.25"/>
<path d="M301.4 481.1 L295.5 478.8 L296.3 481.1 L295.5 483.4 Z" fill="#1e1e1e"/>
<line x1="38.2" y1="472.06" x2="41.75" y2="472.06" stroke="#1e1e1e" stroke-width="1.1"/>
<line x1="34.5" y1="463.02" x2="41.75" y2="463.02" stroke="#1e1e1e" stroke-width="1.1"/>
<text x="24.69" y="467.22" font-size="12.9" textLength="5.93" lengthAdjust="spacingAndGlyphs" stroke="#1a1a1a" stroke-width="0.1">5</text>
<line x1="38.2" y1="453.98" x2="41.75" y2="453.98" stroke="#1e1e1e" stroke-width="1.1"/>
<line x1="34.5" y1="444.94" x2="41.75" y2="444.94" stroke="#1e1e1e" stroke-width="1.1"/>
<text x="18.73" y="449.14" font-size="12.9" textLength="11.87" lengthAdjust="spacingAndGlyphs" stroke="#1a1a1a" stroke-width="0.1">10</text>
<line x1="38.2" y1="435.9" x2="41.75" y2="435.9" stroke="#1e1e1e" stroke-width="1.1"/>
<line x1="34.5" y1="426.86" x2="41.75" y2="426.86" stroke="#1e1e1e" stroke-width="1.1"/>
<text x="18.76" y="431.06" font-size="12.9" textLength="11.87" lengthAdjust="spacingAndGlyphs" stroke="#1a1a1a" stroke-width="0.1">15</text>
<line x1="38.2" y1="417.82" x2="41.75" y2="417.82" stroke="#1e1e1e" stroke-width="1.1"/>
<line x1="34.5" y1="408.78" x2="41.75" y2="408.78" stroke="#1e1e1e" stroke-width="1.1"/>
<text x="18.73" y="412.98" font-size="12.9" textLength="11.87" lengthAdjust="spacingAndGlyphs" stroke="#1a1a1a" stroke-width="0.1">20</text>
<line x1="38.2" y1="399.74" x2="41.75" y2="399.74" stroke="#1e1e1e" stroke-width="1.1"/>
<line x1="34.5" y1="390.7" x2="41.75" y2="390.7" stroke="#1e1e1e" stroke-width="1.1"/>
<text x="18.76" y="394.9" font-size="12.9" textLength="11.87" lengthAdjust="spacingAndGlyphs" stroke="#1a1a1a" stroke-width="0.1">25</text>
<line x1="38.2" y1="381.66" x2="41.75" y2="381.66" stroke="#1e1e1e" stroke-width="1.1"/>
<line x1="34.5" y1="372.62" x2="41.75" y2="372.62" stroke="#1e1e1e" stroke-width="1.1"/>
<text x="18.73" y="376.82" font-size="12.9" textLength="11.87" lengthAdjust="spacingAndGlyphs" stroke="#1a1a1a" stroke-width="0.1">30</text>
<line x1="52.6" y1="481.1" x2="52.6" y2="488.2" stroke="#3a3a3a" stroke-width="0.95"/>
<text x="46.46" y="500.9" font-size="12.9" textLength="11.61" lengthAdjust="spacingAndGlyphs" stroke="#1a1a1a" stroke-width="0.1">16</text>
<line x1="67.08" y1="481.1" x2="67.08" y2="484.4" stroke="#3a3a3a" stroke-width="0.95"/>
<line x1="81.56" y1="481.1" x2="81.56" y2="488.2" stroke="#3a3a3a" stroke-width="0.95"/>
<text x="75.79" y="500.9" font-size="12.9" textLength="11.61" lengthAdjust="spacingAndGlyphs" stroke="#1a1a1a" stroke-width="0.1">32</text>
<line x1="96.03" y1="481.1" x2="96.03" y2="484.4" stroke="#3a3a3a" stroke-width="0.95"/>
<line x1="110.51" y1="481.1" x2="110.51" y2="488.2" stroke="#3a3a3a" stroke-width="0.95"/>
<text x="104.55" y="500.9" font-size="12.9" textLength="11.61" lengthAdjust="spacingAndGlyphs" stroke="#1a1a1a" stroke-width="0.1">64</text>
<line x1="124.99" y1="481.1" x2="124.99" y2="484.4" stroke="#3a3a3a" stroke-width="0.95"/>
<line x1="139.47" y1="481.1" x2="139.47" y2="488.2" stroke="#3a3a3a" stroke-width="0.95"/>
<text x="130.47" y="500.9" font-size="12.9" textLength="17.42" lengthAdjust="spacingAndGlyphs" stroke="#1a1a1a" stroke-width="0.1">128</text>
<line x1="153.94" y1="481.1" x2="153.94" y2="484.4" stroke="#3a3a3a" stroke-width="0.95"/>
<line x1="168.42" y1="481.1" x2="168.42" y2="488.2" stroke="#3a3a3a" stroke-width="0.95"/>
<text x="159.63" y="500.9" font-size="12.9" textLength="17.41" lengthAdjust="spacingAndGlyphs" stroke="#1a1a1a" stroke-width="0.1">256</text>
<line x1="182.9" y1="481.1" x2="182.9" y2="484.4" stroke="#3a3a3a" stroke-width="0.95"/>
<line x1="197.37" y1="481.1" x2="197.37" y2="488.2" stroke="#3a3a3a" stroke-width="0.95"/>
<text x="188.65" y="500.9" font-size="12.9" textLength="17.42" lengthAdjust="spacingAndGlyphs" stroke="#1a1a1a" stroke-width="0.1">512</text>
<line x1="211.85" y1="481.1" x2="211.85" y2="484.4" stroke="#3a3a3a" stroke-width="0.95"/>
<line x1="226.33" y1="481.1" x2="226.33" y2="488.2" stroke="#3a3a3a" stroke-width="0.95"/>
<text x="214.3" y="500.9" font-size="12.9" textLength="23.22" lengthAdjust="spacingAndGlyphs" stroke="#1a1a1a" stroke-width="0.1">1024</text>
<line x1="240.81" y1="481.1" x2="240.81" y2="484.4" stroke="#3a3a3a" stroke-width="0.95"/>
<line x1="255.28" y1="481.1" x2="255.28" y2="488.2" stroke="#3a3a3a" stroke-width="0.95"/>
<text x="243.63" y="500.9" font-size="12.9" textLength="23.22" lengthAdjust="spacingAndGlyphs" stroke="#1a1a1a" stroke-width="0.1">2048</text>
<line x1="269.76" y1="481.1" x2="269.76" y2="484.4" stroke="#3a3a3a" stroke-width="0.95"/>
<line x1="284.24" y1="481.1" x2="284.24" y2="488.2" stroke="#3a3a3a" stroke-width="0.95"/>
<text x="272.69" y="500.9" font-size="12.9" textLength="23.22" lengthAdjust="spacingAndGlyphs" stroke="#1a1a1a" stroke-width="0.1">4096</text>
<text x="140.56" y="517.6" font-size="11.6" textLength="36.92" lengthAdjust="spacingAndGlyphs" stroke="#1a1a1a" stroke-width="0.1">Number</text>
<text x="182.53" y="517.6" font-size="11.6" textLength="8.17" lengthAdjust="spacingAndGlyphs" stroke="#1a1a1a" stroke-width="0.1">of</text>
<text x="196.06" y="517.6" font-size="11.6" textLength="36.35" lengthAdjust="spacingAndGlyphs" stroke="#1a1a1a" stroke-width="0.1">Vertices</text>
<text x="-0.01" y="535.2" font-size="12.2" textLength="40.22" lengthAdjust="spacingAndGlyphs" stroke="#1a1a1a" stroke-width="0.1">#cliques</text>
<text x="4.26" y="553.1" font-size="12.2" textLength="36.08" lengthAdjust="spacingAndGlyphs" stroke="#1a1a1a" stroke-width="0.1">density</text>
<text x="49.6" y="535.5" font-size="12.6" textLength="5.8" lengthAdjust="spacingAndGlyphs" stroke="#1a1a1a" stroke-width="0.1">5</text>
<text x="78.7" y="535.5" font-size="12.6" textLength="5.8" lengthAdjust="spacingAndGlyphs" stroke="#1a1a1a" stroke-width="0.1">9</text>
<text x="104.38" y="535.5" font-size="12.6" textLength="11.59" lengthAdjust="spacingAndGlyphs" stroke="#1a1a1a" stroke-width="0.1">17</text>
<text x="133.63" y="535.5" font-size="12.6" textLength="11.59" lengthAdjust="spacingAndGlyphs" stroke="#1a1a1a" stroke-width="0.1">28</text>
<text x="162.68" y="535.5" font-size="12.6" textLength="11.59" lengthAdjust="spacingAndGlyphs" stroke="#1a1a1a" stroke-width="0.1">46</text>
<text x="191.43" y="535.5" font-size="12.6" textLength="11.59" lengthAdjust="spacingAndGlyphs" stroke="#1a1a1a" stroke-width="0.1">73</text>
<text x="217.22" y="535.5" font-size="12.6" textLength="17.39" lengthAdjust="spacingAndGlyphs" stroke="#1a1a1a" stroke-width="0.1">124</text>
<text x="246.65" y="535.5" font-size="12.6" textLength="17.39" lengthAdjust="spacingAndGlyphs" stroke="#1a1a1a" stroke-width="0.1">202</text>
<text x="275.36" y="535.5" font-size="12.6" textLength="17.39" lengthAdjust="spacingAndGlyphs" stroke="#1a1a1a" stroke-width="0.1">334</text>
<text x="42.25" y="553.6" font-size="12.6" textLength="20.73" lengthAdjust="spacingAndGlyphs" stroke="#1a1a1a" stroke-width="0.1">0.63</text>
<text x="71.21" y="553.6" font-size="12.6" textLength="20.73" lengthAdjust="spacingAndGlyphs" stroke="#1a1a1a" stroke-width="0.1">0.53</text>
<text x="100.28" y="553.6" font-size="12.6" textLength="20.73" lengthAdjust="spacingAndGlyphs" stroke="#1a1a1a" stroke-width="0.1">0.41</text>
<text x="129.23" y="553.6" font-size="12.6" textLength="20.73" lengthAdjust="spacingAndGlyphs" stroke="#1a1a1a" stroke-width="0.1">0.41</text>
<text x="158.07" y="553.6" font-size="12.6" textLength="20.73" lengthAdjust="spacingAndGlyphs" stroke="#1a1a1a" stroke-width="0.1">0.33</text>
<text x="186.88" y="553.6" font-size="12.6" textLength="20.73" lengthAdjust="spacingAndGlyphs" stroke="#1a1a1a" stroke-width="0.1">0.34</text>
<text x="215.97" y="553.6" font-size="12.6" textLength="20.73" lengthAdjust="spacingAndGlyphs" stroke="#1a1a1a" stroke-width="0.1">0.28</text>
<text x="244.94" y="553.6" font-size="12.6" textLength="20.73" lengthAdjust="spacingAndGlyphs" stroke="#1a1a1a" stroke-width="0.1">0.25</text>
<text x="273.98" y="553.6" font-size="12.6" textLength="20.73" lengthAdjust="spacingAndGlyphs" stroke="#1a1a1a" stroke-width="0.1">0.22</text>
<text x="2.64" y="358.4" font-size="12.2" textLength="34.22" lengthAdjust="spacingAndGlyphs" fill="#d8535f" stroke="#d8535f" stroke-width="0.1">timeout</text>
<polyline points="52.6,481.1 81.56,481.1 110.51,481.1 139.47,481.1 168.42,481.1 197.37,481.1 226.33,481.1 255.28,480.02 284.24,476.76" fill="none" stroke="#3f9d8f" stroke-width="1.35" stroke-linejoin="round" opacity="0.82"/>
<circle cx="52.6" cy="481.1" r="2.2" fill="#3f9d8f" opacity="0.82"/>
<circle cx="81.56" cy="481.1" r="2.2" fill="#3f9d8f" opacity="0.82"/>
<circle cx="110.51" cy="481.1" r="2.2" fill="#3f9d8f" opacity="0.82"/>
<circle cx="139.47" cy="481.1" r="2.2" fill="#3f9d8f" opacity="0.82"/>
<circle cx="168.42" cy="481.1" r="2.2" fill="#3f9d8f" opacity="0.82"/>
<circle cx="197.37" cy="481.1" r="2.2" fill="#3f9d8f" opacity="0.82"/>
<circle cx="226.33" cy="481.1" r="2.2" fill="#3f9d8f" opacity="0.82"/>
<circle cx="255.28" cy="480.02" r="2.2" fill="#3f9d8f" opacity="0.82"/>
<circle cx="284.24" cy="476.76" r="2.2" fill="#3f9d8f" opacity="0.82"/>
<line x1="42.45" y1="354.54" x2="284.24" y2="354.54" stroke="#d8535f" stroke-width="1" stroke-dasharray="4.1 2.15" opacity="0.85"/>
<line x1="81.56" y1="481.1" x2="81.56" y2="354.54" stroke="#fbc22c" stroke-width="0.85" opacity="0.8"/>
<line x1="78.26" y1="481.1" x2="84.86" y2="481.1" stroke="#fbc22c" stroke-width="0.85" opacity="0.8"/>
<line x1="78.26" y1="354.54" x2="84.86" y2="354.54" stroke="#fbc22c" stroke-width="0.85" opacity="0.8"/>
<polyline points="52.6,481.1 81.56,433.73 110.51,354.54 139.47,354.54 168.42,354.54 197.37,354.54 226.33,354.54 255.28,354.54 284.24,354.54" fill="none" stroke="#fbc22c" stroke-width="1.35" stroke-linejoin="round" opacity="0.82"/>
<circle cx="52.6" cy="481.1" r="2.2" fill="#fbc22c" opacity="0.82"/>
<circle cx="81.56" cy="433.73" r="2.2" fill="#fbc22c" opacity="0.82"/>
<circle cx="110.51" cy="354.54" r="2.2" fill="#fbc22c" opacity="0.82"/>
<circle cx="139.47" cy="354.54" r="2.2" fill="#fbc22c" opacity="0.82"/>
<circle cx="168.42" cy="354.54" r="2.2" fill="#fbc22c" opacity="0.82"/>
<circle cx="197.37" cy="354.54" r="2.2" fill="#fbc22c" opacity="0.82"/>
<circle cx="226.33" cy="354.54" r="2.2" fill="#fbc22c" opacity="0.82"/>
<circle cx="255.28" cy="354.54" r="2.2" fill="#fbc22c" opacity="0.82"/>
<circle cx="284.24" cy="354.54" r="2.2" fill="#fbc22c" opacity="0.82"/>
<line x1="168.42" y1="480.38" x2="168.42" y2="471.7" stroke="#5c3a6e" stroke-width="0.85" opacity="0.8"/>
<line x1="165.12" y1="480.38" x2="171.72" y2="480.38" stroke="#5c3a6e" stroke-width="0.85" opacity="0.8"/>
<line x1="165.12" y1="471.7" x2="171.72" y2="471.7" stroke="#5c3a6e" stroke-width="0.85" opacity="0.8"/>
<polyline points="52.6,481.1 81.56,481.1 110.51,481.1 139.47,481.1 168.42,476.76 197.37,354.54 226.33,354.54 255.28,354.54 284.24,354.54" fill="none" stroke="#5c3a6e" stroke-width="1.35" stroke-linejoin="round" opacity="0.82"/>
<circle cx="52.6" cy="481.1" r="2.2" fill="#5c3a6e" opacity="0.82"/>
<circle cx="81.56" cy="481.1" r="2.2" fill="#5c3a6e" opacity="0.82"/>
<circle cx="110.51" cy="481.1" r="2.2" fill="#5c3a6e" opacity="0.82"/>
<circle cx="139.47" cy="481.1" r="2.2" fill="#5c3a6e" opacity="0.82"/>
<circle cx="168.42" cy="476.76" r="2.2" fill="#5c3a6e" opacity="0.82"/>
<circle cx="197.37" cy="354.54" r="2.2" fill="#5c3a6e" opacity="0.82"/>
<circle cx="226.33" cy="354.54" r="2.2" fill="#5c3a6e" opacity="0.82"/>
<circle cx="255.28" cy="354.54" r="2.2" fill="#5c3a6e" opacity="0.82"/>
<circle cx="284.24" cy="354.54" r="2.2" fill="#5c3a6e" opacity="0.82"/>
<polyline points="52.6,481.1 81.56,480.38 110.51,354.54 139.47,354.54 168.42,354.54 197.37,354.54 226.33,354.54 255.28,354.54 284.24,354.54" fill="none" stroke="#1283ab" stroke-width="1.35" stroke-linejoin="round" opacity="0.82"/>
<circle cx="52.6" cy="481.1" r="2.2" fill="#1283ab" opacity="0.82"/>
<circle cx="81.56" cy="480.38" r="2.2" fill="#1283ab" opacity="0.82"/>
<circle cx="110.51" cy="354.54" r="2.2" fill="#1283ab" opacity="0.82"/>
<circle cx="139.47" cy="354.54" r="2.2" fill="#1283ab" opacity="0.82"/>
<circle cx="168.42" cy="354.54" r="2.2" fill="#1283ab" opacity="0.82"/>
<circle cx="197.37" cy="354.54" r="2.2" fill="#1283ab" opacity="0.82"/>
<circle cx="226.33" cy="354.54" r="2.2" fill="#1283ab" opacity="0.82"/>
<circle cx="255.28" cy="354.54" r="2.2" fill="#1283ab" opacity="0.82"/>
<circle cx="284.24" cy="354.54" r="2.2" fill="#1283ab" opacity="0.82"/>
<text x="286.19" y="345.8" font-size="12" textLength="14.28" lengthAdjust="spacingAndGlyphs" fill="#5c3a6e" stroke="#5c3a6e" stroke-width="0.1">am</text>
<text x="290.43" y="358.4" font-size="12" textLength="6.01" lengthAdjust="spacingAndGlyphs" fill="#1283ab" stroke="#1283ab" stroke-width="0.1">li</text>
<text x="287.94" y="368.3" font-size="11.8" textLength="10.96" lengthAdjust="spacingAndGlyphs" fill="#fbc22c" stroke="#fbc22c" stroke-width="0.1">tw</text>
<text x="287.91" y="473.75" font-size="11.8" textLength="11.1" lengthAdjust="spacingAndGlyphs" fill="#3f9d8f" stroke="#3f9d8f" stroke-width="0.1">cp</text>
<rect x="354.01" y="285.83" width="14.88" height="13.97" fill="#d3d3d3"/>
<text x="361.45" y="296.6" font-size="12.3" text-anchor="middle" stroke="#1a1a1a" stroke-width="0.12">D</text>
<text x="377.52" y="296.8" font-size="13.2" textLength="125.34" lengthAdjust="spacingAndGlyphs" stroke="#1a1a1a" stroke-width="0.1">Random Interval Graphs</text>
<text x="347.88" y="319.2" font-size="11.6" textLength="64.92" lengthAdjust="spacing" stroke="#1a1a1a" stroke-width="0.1">Average Time</text>
<text x="354.66" y="331.8" font-size="11.6" textLength="50.66" lengthAdjust="spacing" stroke="#1a1a1a" stroke-width="0.1">in Minutes</text>
<line x1="379.75" y1="481.7" x2="379.75" y2="341.1" stroke="#1e1e1e" stroke-width="1.25"/>
<path d="M379.75 337.1 L377.45 343.1 L379.75 342.3 L382.05 343.1 Z" fill="#1e1e1e"/>
<line x1="379.15" y1="481.1" x2="635" y2="481.1" stroke="#1e1e1e" stroke-width="1.25"/>
<path d="M639.4 481.1 L633.5 478.8 L634.3 481.1 L633.5 483.4 Z" fill="#1e1e1e"/>
<line x1="376.2" y1="472.06" x2="379.75" y2="472.06" stroke="#1e1e1e" stroke-width="1.1"/>
<line x1="372.5" y1="463.02" x2="379.75" y2="463.02" stroke="#1e1e1e" stroke-width="1.1"/>
<text x="362.69" y="467.22" font-size="12.9" textLength="5.93" lengthAdjust="spacingAndGlyphs" stroke="#1a1a1a" stroke-width="0.1">5</text>
<line x1="376.2" y1="453.98" x2="379.75" y2="453.98" stroke="#1e1e1e" stroke-width="1.1"/>
<line x1="372.5" y1="444.94" x2="379.75" y2="444.94" stroke="#1e1e1e" stroke-width="1.1"/>
<text x="356.73" y="449.14" font-size="12.9" textLength="11.87" lengthAdjust="spacingAndGlyphs" stroke="#1a1a1a" stroke-width="0.1">10</text>
<line x1="376.2" y1="435.9" x2="379.75" y2="435.9" stroke="#1e1e1e" stroke-width="1.1"/>
<line x1="372.5" y1="426.86" x2="379.75" y2="426.86" stroke="#1e1e1e" stroke-width="1.1"/>
<text x="356.76" y="431.06" font-size="12.9" textLength="11.87" lengthAdjust="spacingAndGlyphs" stroke="#1a1a1a" stroke-width="0.1">15</text>
<line x1="376.2" y1="417.82" x2="379.75" y2="417.82" stroke="#1e1e1e" stroke-width="1.1"/>
<line x1="372.5" y1="408.78" x2="379.75" y2="408.78" stroke="#1e1e1e" stroke-width="1.1"/>
<text x="356.73" y="412.98" font-size="12.9" textLength="11.87" lengthAdjust="spacingAndGlyphs" stroke="#1a1a1a" stroke-width="0.1">20</text>
<line x1="376.2" y1="399.74" x2="379.75" y2="399.74" stroke="#1e1e1e" stroke-width="1.1"/>
<line x1="372.5" y1="390.7" x2="379.75" y2="390.7" stroke="#1e1e1e" stroke-width="1.1"/>
<text x="356.76" y="394.9" font-size="12.9" textLength="11.87" lengthAdjust="spacingAndGlyphs" stroke="#1a1a1a" stroke-width="0.1">25</text>
<line x1="376.2" y1="381.66" x2="379.75" y2="381.66" stroke="#1e1e1e" stroke-width="1.1"/>
<line x1="372.5" y1="372.62" x2="379.75" y2="372.62" stroke="#1e1e1e" stroke-width="1.1"/>
<text x="356.73" y="376.82" font-size="12.9" textLength="11.87" lengthAdjust="spacingAndGlyphs" stroke="#1a1a1a" stroke-width="0.1">30</text>
<line x1="390.6" y1="481.1" x2="390.6" y2="488.2" stroke="#3a3a3a" stroke-width="0.95"/>
<text x="384.46" y="500.9" font-size="12.9" textLength="11.61" lengthAdjust="spacingAndGlyphs" stroke="#1a1a1a" stroke-width="0.1">16</text>
<line x1="405.08" y1="481.1" x2="405.08" y2="484.4" stroke="#3a3a3a" stroke-width="0.95"/>
<line x1="419.56" y1="481.1" x2="419.56" y2="488.2" stroke="#3a3a3a" stroke-width="0.95"/>
<text x="413.79" y="500.9" font-size="12.9" textLength="11.61" lengthAdjust="spacingAndGlyphs" stroke="#1a1a1a" stroke-width="0.1">32</text>
<line x1="434.03" y1="481.1" x2="434.03" y2="484.4" stroke="#3a3a3a" stroke-width="0.95"/>
<line x1="448.51" y1="481.1" x2="448.51" y2="488.2" stroke="#3a3a3a" stroke-width="0.95"/>
<text x="442.55" y="500.9" font-size="12.9" textLength="11.61" lengthAdjust="spacingAndGlyphs" stroke="#1a1a1a" stroke-width="0.1">64</text>
<line x1="462.99" y1="481.1" x2="462.99" y2="484.4" stroke="#3a3a3a" stroke-width="0.95"/>
<line x1="477.47" y1="481.1" x2="477.47" y2="488.2" stroke="#3a3a3a" stroke-width="0.95"/>
<text x="468.47" y="500.9" font-size="12.9" textLength="17.42" lengthAdjust="spacingAndGlyphs" stroke="#1a1a1a" stroke-width="0.1">128</text>
<line x1="491.94" y1="481.1" x2="491.94" y2="484.4" stroke="#3a3a3a" stroke-width="0.95"/>
<line x1="506.42" y1="481.1" x2="506.42" y2="488.2" stroke="#3a3a3a" stroke-width="0.95"/>
<text x="497.63" y="500.9" font-size="12.9" textLength="17.42" lengthAdjust="spacingAndGlyphs" stroke="#1a1a1a" stroke-width="0.1">256</text>
<line x1="520.9" y1="481.1" x2="520.9" y2="484.4" stroke="#3a3a3a" stroke-width="0.95"/>
<line x1="535.38" y1="481.1" x2="535.38" y2="488.2" stroke="#3a3a3a" stroke-width="0.95"/>
<text x="526.65" y="500.9" font-size="12.9" textLength="17.41" lengthAdjust="spacingAndGlyphs" stroke="#1a1a1a" stroke-width="0.1">512</text>
<line x1="549.85" y1="481.1" x2="549.85" y2="484.4" stroke="#3a3a3a" stroke-width="0.95"/>
<line x1="564.33" y1="481.1" x2="564.33" y2="488.2" stroke="#3a3a3a" stroke-width="0.95"/>
<text x="552.3" y="500.9" font-size="12.9" textLength="23.22" lengthAdjust="spacingAndGlyphs" stroke="#1a1a1a" stroke-width="0.1">1024</text>
<line x1="578.81" y1="481.1" x2="578.81" y2="484.4" stroke="#3a3a3a" stroke-width="0.95"/>
<line x1="593.29" y1="481.1" x2="593.29" y2="488.2" stroke="#3a3a3a" stroke-width="0.95"/>
<text x="581.63" y="500.9" font-size="12.9" textLength="23.22" lengthAdjust="spacingAndGlyphs" stroke="#1a1a1a" stroke-width="0.1">2048</text>
<line x1="607.76" y1="481.1" x2="607.76" y2="484.4" stroke="#3a3a3a" stroke-width="0.95"/>
<line x1="622.24" y1="481.1" x2="622.24" y2="488.2" stroke="#3a3a3a" stroke-width="0.95"/>
<text x="610.69" y="500.9" font-size="12.9" textLength="23.22" lengthAdjust="spacingAndGlyphs" stroke="#1a1a1a" stroke-width="0.1">4096</text>
<text x="478.56" y="517.6" font-size="11.6" textLength="36.92" lengthAdjust="spacingAndGlyphs" stroke="#1a1a1a" stroke-width="0.1">Number</text>
<text x="520.53" y="517.6" font-size="11.6" textLength="8.17" lengthAdjust="spacingAndGlyphs" stroke="#1a1a1a" stroke-width="0.1">of</text>
<text x="534.06" y="517.6" font-size="11.6" textLength="36.35" lengthAdjust="spacingAndGlyphs" stroke="#1a1a1a" stroke-width="0.1">Vertices</text>
<text x="337.99" y="535.2" font-size="12.2" textLength="40.22" lengthAdjust="spacingAndGlyphs" stroke="#1a1a1a" stroke-width="0.1">#cliques</text>
<text x="342.26" y="553.1" font-size="12.2" textLength="36.08" lengthAdjust="spacingAndGlyphs" stroke="#1a1a1a" stroke-width="0.1">density</text>
<text x="387.63" y="535.5" font-size="12.6" textLength="5.8" lengthAdjust="spacingAndGlyphs" stroke="#1a1a1a" stroke-width="0.1">6</text>
<text x="413.82" y="535.5" font-size="12.6" textLength="11.16" lengthAdjust="spacingAndGlyphs" stroke="#1a1a1a" stroke-width="0.1">11</text>
<text x="442.8" y="535.5" font-size="12.6" textLength="11.59" lengthAdjust="spacingAndGlyphs" stroke="#1a1a1a" stroke-width="0.1">21</text>
<text x="471.73" y="535.5" font-size="12.6" textLength="11.59" lengthAdjust="spacingAndGlyphs" stroke="#1a1a1a" stroke-width="0.1">46</text>
<text x="500.58" y="535.5" font-size="12.6" textLength="11.59" lengthAdjust="spacingAndGlyphs" stroke="#1a1a1a" stroke-width="0.1">86</text>
<text x="526.39" y="535.5" font-size="12.6" textLength="17.39" lengthAdjust="spacingAndGlyphs" stroke="#1a1a1a" stroke-width="0.1">168</text>
<text x="555.58" y="535.5" font-size="12.6" textLength="17.39" lengthAdjust="spacingAndGlyphs" stroke="#1a1a1a" stroke-width="0.1">340</text>
<text x="584.56" y="535.5" font-size="12.6" textLength="17.39" lengthAdjust="spacingAndGlyphs" stroke="#1a1a1a" stroke-width="0.1">688</text>
<text x="610.23" y="535.5" font-size="12.6" textLength="23.18" lengthAdjust="spacingAndGlyphs" stroke="#1a1a1a" stroke-width="0.1">1364</text>
<text x="380.19" y="553.6" font-size="12.6" textLength="20.73" lengthAdjust="spacingAndGlyphs" stroke="#1a1a1a" stroke-width="0.1">0.66</text>
<text x="409.15" y="553.6" font-size="12.6" textLength="20.73" lengthAdjust="spacingAndGlyphs" stroke="#1a1a1a" stroke-width="0.1">0.67</text>
<text x="438.1" y="553.6" font-size="12.6" textLength="20.73" lengthAdjust="spacingAndGlyphs" stroke="#1a1a1a" stroke-width="0.1">0.67</text>
<text x="467.12" y="553.6" font-size="12.6" textLength="20.73" lengthAdjust="spacingAndGlyphs" stroke="#1a1a1a" stroke-width="0.1">0.65</text>
<text x="496.01" y="553.6" font-size="12.6" textLength="20.73" lengthAdjust="spacingAndGlyphs" stroke="#1a1a1a" stroke-width="0.1">0.67</text>
<text x="525.01" y="553.6" font-size="12.6" textLength="20.73" lengthAdjust="spacingAndGlyphs" stroke="#1a1a1a" stroke-width="0.1">0.68</text>
<text x="553.92" y="553.6" font-size="12.6" textLength="20.73" lengthAdjust="spacingAndGlyphs" stroke="#1a1a1a" stroke-width="0.1">0.67</text>
<text x="582.88" y="553.6" font-size="12.6" textLength="20.73" lengthAdjust="spacingAndGlyphs" stroke="#1a1a1a" stroke-width="0.1">0.66</text>
<text x="611.83" y="553.6" font-size="12.6" textLength="20.73" lengthAdjust="spacingAndGlyphs" stroke="#1a1a1a" stroke-width="0.1">0.67</text>
<text x="340.64" y="358.4" font-size="12.2" textLength="34.22" lengthAdjust="spacingAndGlyphs" fill="#d8535f" stroke="#d8535f" stroke-width="0.1">timeout</text>
<line x1="622.24" y1="447.83" x2="622.24" y2="442.77" stroke="#3f9d8f" stroke-width="0.85" opacity="0.8"/>
<line x1="618.94" y1="447.83" x2="625.54" y2="447.83" stroke="#3f9d8f" stroke-width="0.85" opacity="0.8"/>
<line x1="618.94" y1="442.77" x2="625.54" y2="442.77" stroke="#3f9d8f" stroke-width="0.85" opacity="0.8"/>
<polyline points="390.6,481.1 419.56,481.1 448.51,481.1 477.47,481.1 506.42,481.1 535.38,481.1 564.33,481.1 593.29,477.48 622.24,447.83" fill="none" stroke="#3f9d8f" stroke-width="1.35" stroke-linejoin="round" opacity="0.82"/>
<circle cx="390.6" cy="481.1" r="2.2" fill="#3f9d8f" opacity="0.82"/>
<circle cx="419.56" cy="481.1" r="2.2" fill="#3f9d8f" opacity="0.82"/>
<circle cx="448.51" cy="481.1" r="2.2" fill="#3f9d8f" opacity="0.82"/>
<circle cx="477.47" cy="481.1" r="2.2" fill="#3f9d8f" opacity="0.82"/>
<circle cx="506.42" cy="481.1" r="2.2" fill="#3f9d8f" opacity="0.82"/>
<circle cx="535.38" cy="481.1" r="2.2" fill="#3f9d8f" opacity="0.82"/>
<circle cx="564.33" cy="481.1" r="2.2" fill="#3f9d8f" opacity="0.82"/>
<circle cx="593.29" cy="477.48" r="2.2" fill="#3f9d8f" opacity="0.82"/>
<circle cx="622.24" cy="447.83" r="2.2" fill="#3f9d8f" opacity="0.82"/>
<line x1="380.45" y1="354.54" x2="622.24" y2="354.54" stroke="#d8535f" stroke-width="1" stroke-dasharray="4.1 2.15" opacity="0.85"/>
<line x1="419.56" y1="379.85" x2="419.56" y2="354.54" stroke="#fbc22c" stroke-width="0.85" opacity="0.8"/>
<line x1="416.25" y1="379.85" x2="422.86" y2="379.85" stroke="#fbc22c" stroke-width="0.85" opacity="0.8"/>
<line x1="416.25" y1="354.54" x2="422.86" y2="354.54" stroke="#fbc22c" stroke-width="0.85" opacity="0.8"/>
<polyline points="390.6,481.1 419.56,357.07 448.51,354.54 477.47,354.54 506.42,354.54 535.38,354.54 564.33,354.54 593.29,354.54 622.24,354.54" fill="none" stroke="#fbc22c" stroke-width="1.35" stroke-linejoin="round" opacity="0.82"/>
<circle cx="390.6" cy="481.1" r="2.2" fill="#fbc22c" opacity="0.82"/>
<circle cx="419.56" cy="357.07" r="2.2" fill="#fbc22c" opacity="0.82"/>
<circle cx="448.51" cy="354.54" r="2.2" fill="#fbc22c" opacity="0.82"/>
<circle cx="477.47" cy="354.54" r="2.2" fill="#fbc22c" opacity="0.82"/>
<circle cx="506.42" cy="354.54" r="2.2" fill="#fbc22c" opacity="0.82"/>
<circle cx="535.38" cy="354.54" r="2.2" fill="#fbc22c" opacity="0.82"/>
<circle cx="564.33" cy="354.54" r="2.2" fill="#fbc22c" opacity="0.82"/>
<circle cx="593.29" cy="354.54" r="2.2" fill="#fbc22c" opacity="0.82"/>
<circle cx="622.24" cy="354.54" r="2.2" fill="#fbc22c" opacity="0.82"/>
<polyline points="390.6,481.1 419.56,481.1 448.51,481.1 477.47,479.65 506.42,354.54 535.38,354.54 564.33,354.54 593.29,354.54 622.24,354.54" fill="none" stroke="#5c3a6e" stroke-width="1.35" stroke-linejoin="round" opacity="0.82"/>
<circle cx="390.6" cy="481.1" r="2.2" fill="#5c3a6e" opacity="0.82"/>
<circle cx="419.56" cy="481.1" r="2.2" fill="#5c3a6e" opacity="0.82"/>
<circle cx="448.51" cy="481.1" r="2.2" fill="#5c3a6e" opacity="0.82"/>
<circle cx="477.47" cy="479.65" r="2.2" fill="#5c3a6e" opacity="0.82"/>
<circle cx="506.42" cy="354.54" r="2.2" fill="#5c3a6e" opacity="0.82"/>
<circle cx="535.38" cy="354.54" r="2.2" fill="#5c3a6e" opacity="0.82"/>
<circle cx="564.33" cy="354.54" r="2.2" fill="#5c3a6e" opacity="0.82"/>
<circle cx="593.29" cy="354.54" r="2.2" fill="#5c3a6e" opacity="0.82"/>
<circle cx="622.24" cy="354.54" r="2.2" fill="#5c3a6e" opacity="0.82"/>
<line x1="419.56" y1="481.1" x2="419.56" y2="428.31" stroke="#1283ab" stroke-width="0.85" opacity="0.8"/>
<line x1="416.25" y1="481.1" x2="422.86" y2="481.1" stroke="#1283ab" stroke-width="0.85" opacity="0.8"/>
<line x1="416.25" y1="428.31" x2="422.86" y2="428.31" stroke="#1283ab" stroke-width="0.85" opacity="0.8"/>
<polyline points="390.6,481.1 419.56,470.61 448.51,354.54 477.47,354.54 506.42,354.54 535.38,354.54 564.33,354.54 593.29,354.54 622.24,354.54" fill="none" stroke="#1283ab" stroke-width="1.35" stroke-linejoin="round" opacity="0.82"/>
<circle cx="390.6" cy="481.1" r="2.2" fill="#1283ab" opacity="0.82"/>
<circle cx="419.56" cy="470.61" r="2.2" fill="#1283ab" opacity="0.82"/>
<circle cx="448.51" cy="354.54" r="2.2" fill="#1283ab" opacity="0.82"/>
<circle cx="477.47" cy="354.54" r="2.2" fill="#1283ab" opacity="0.82"/>
<circle cx="506.42" cy="354.54" r="2.2" fill="#1283ab" opacity="0.82"/>
<circle cx="535.38" cy="354.54" r="2.2" fill="#1283ab" opacity="0.82"/>
<circle cx="564.33" cy="354.54" r="2.2" fill="#1283ab" opacity="0.82"/>
<circle cx="593.29" cy="354.54" r="2.2" fill="#1283ab" opacity="0.82"/>
<circle cx="622.24" cy="354.54" r="2.2" fill="#1283ab" opacity="0.82"/>
<text x="624.19" y="345.8" font-size="12" textLength="14.28" lengthAdjust="spacingAndGlyphs" fill="#5c3a6e" stroke="#5c3a6e" stroke-width="0.1">am</text>
<text x="628.43" y="358.4" font-size="12" textLength="6.01" lengthAdjust="spacingAndGlyphs" fill="#1283ab" stroke="#1283ab" stroke-width="0.1">li</text>
<text x="625.94" y="368.3" font-size="11.8" textLength="10.96" lengthAdjust="spacingAndGlyphs" fill="#fbc22c" stroke="#fbc22c" stroke-width="0.1">tw</text>
<text x="625.91" y="451.6" font-size="11.8" textLength="11.1" lengthAdjust="spacingAndGlyphs" fill="#3f9d8f" stroke="#3f9d8f" stroke-width="0.1">cp</text>
<rect x="16.69" y="569.93" width="13.51" height="13.97" fill="#d3d3d3"/>
<text x="23.45" y="580.7" font-size="12.3" text-anchor="middle" stroke="#1a1a1a" stroke-width="0.12">E</text>
<text x="38.42" y="580.9" font-size="13.2" textLength="134.78" lengthAdjust="spacingAndGlyphs" stroke="#1a1a1a" stroke-width="0.1">Perfect Elimination Order,</text>
<text x="176.42" y="580.9" font-size="13.86" textLength="6.15" lengthAdjust="spacingAndGlyphs" font-style="italic" stroke="#1a1a1a" stroke-width="0.1">k</text>
<text x="186.59" y="580.9" font-size="13.2" textLength="10.31" lengthAdjust="spacingAndGlyphs" stroke="#1a1a1a" stroke-width="0.1">=</text>
<text x="199.78" y="580.9" font-size="13.2" textLength="8" lengthAdjust="spacingAndGlyphs" stroke="#1a1a1a" stroke-width="0.1">2</text>
<text x="9.88" y="603.2" font-size="11.6" textLength="64.92" lengthAdjust="spacing" stroke="#1a1a1a" stroke-width="0.1">Average Time</text>
<text x="16.66" y="615.8" font-size="11.6" textLength="50.66" lengthAdjust="spacing" stroke="#1a1a1a" stroke-width="0.1">in Minutes</text>
<line x1="41.75" y1="765.7" x2="41.75" y2="625.1" stroke="#1e1e1e" stroke-width="1.25"/>
<path d="M41.75 621.1 L39.45 627.1 L41.75 626.3 L44.05 627.1 Z" fill="#1e1e1e"/>
<line x1="41.15" y1="765.1" x2="297" y2="765.1" stroke="#1e1e1e" stroke-width="1.25"/>
<path d="M301.4 765.1 L295.5 762.8 L296.3 765.1 L295.5 767.4 Z" fill="#1e1e1e"/>
<line x1="38.2" y1="756.06" x2="41.75" y2="756.06" stroke="#1e1e1e" stroke-width="1.1"/>
<line x1="34.5" y1="747.02" x2="41.75" y2="747.02" stroke="#1e1e1e" stroke-width="1.1"/>
<text x="24.69" y="751.22" font-size="12.9" textLength="5.93" lengthAdjust="spacingAndGlyphs" stroke="#1a1a1a" stroke-width="0.1">5</text>
<line x1="38.2" y1="737.98" x2="41.75" y2="737.98" stroke="#1e1e1e" stroke-width="1.1"/>
<line x1="34.5" y1="728.94" x2="41.75" y2="728.94" stroke="#1e1e1e" stroke-width="1.1"/>
<text x="18.73" y="733.14" font-size="12.9" textLength="11.87" lengthAdjust="spacingAndGlyphs" stroke="#1a1a1a" stroke-width="0.1">10</text>
<line x1="38.2" y1="719.9" x2="41.75" y2="719.9" stroke="#1e1e1e" stroke-width="1.1"/>
<line x1="34.5" y1="710.86" x2="41.75" y2="710.86" stroke="#1e1e1e" stroke-width="1.1"/>
<text x="18.76" y="715.06" font-size="12.9" textLength="11.87" lengthAdjust="spacingAndGlyphs" stroke="#1a1a1a" stroke-width="0.1">15</text>
<line x1="38.2" y1="701.82" x2="41.75" y2="701.82" stroke="#1e1e1e" stroke-width="1.1"/>
<line x1="34.5" y1="692.78" x2="41.75" y2="692.78" stroke="#1e1e1e" stroke-width="1.1"/>
<text x="18.73" y="696.98" font-size="12.9" textLength="11.87" lengthAdjust="spacingAndGlyphs" stroke="#1a1a1a" stroke-width="0.1">20</text>
<line x1="38.2" y1="683.74" x2="41.75" y2="683.74" stroke="#1e1e1e" stroke-width="1.1"/>
<line x1="34.5" y1="674.7" x2="41.75" y2="674.7" stroke="#1e1e1e" stroke-width="1.1"/>
<text x="18.76" y="678.9" font-size="12.9" textLength="11.87" lengthAdjust="spacingAndGlyphs" stroke="#1a1a1a" stroke-width="0.1">25</text>
<line x1="38.2" y1="665.66" x2="41.75" y2="665.66" stroke="#1e1e1e" stroke-width="1.1"/>
<line x1="34.5" y1="656.62" x2="41.75" y2="656.62" stroke="#1e1e1e" stroke-width="1.1"/>
<text x="18.73" y="660.82" font-size="12.9" textLength="11.87" lengthAdjust="spacingAndGlyphs" stroke="#1a1a1a" stroke-width="0.1">30</text>
<line x1="52.6" y1="765.1" x2="52.6" y2="772.2" stroke="#3a3a3a" stroke-width="0.95"/>
<text x="46.46" y="784.9" font-size="12.9" textLength="11.61" lengthAdjust="spacingAndGlyphs" stroke="#1a1a1a" stroke-width="0.1">16</text>
<line x1="67.08" y1="765.1" x2="67.08" y2="768.4" stroke="#3a3a3a" stroke-width="0.95"/>
<line x1="81.56" y1="765.1" x2="81.56" y2="772.2" stroke="#3a3a3a" stroke-width="0.95"/>
<text x="75.79" y="784.9" font-size="12.9" textLength="11.61" lengthAdjust="spacingAndGlyphs" stroke="#1a1a1a" stroke-width="0.1">32</text>
<line x1="96.03" y1="765.1" x2="96.03" y2="768.4" stroke="#3a3a3a" stroke-width="0.95"/>
<line x1="110.51" y1="765.1" x2="110.51" y2="772.2" stroke="#3a3a3a" stroke-width="0.95"/>
<text x="104.55" y="784.9" font-size="12.9" textLength="11.61" lengthAdjust="spacingAndGlyphs" stroke="#1a1a1a" stroke-width="0.1">64</text>
<line x1="124.99" y1="765.1" x2="124.99" y2="768.4" stroke="#3a3a3a" stroke-width="0.95"/>
<line x1="139.47" y1="765.1" x2="139.47" y2="772.2" stroke="#3a3a3a" stroke-width="0.95"/>
<text x="130.47" y="784.9" font-size="12.9" textLength="17.42" lengthAdjust="spacingAndGlyphs" stroke="#1a1a1a" stroke-width="0.1">128</text>
<line x1="153.94" y1="765.1" x2="153.94" y2="768.4" stroke="#3a3a3a" stroke-width="0.95"/>
<line x1="168.42" y1="765.1" x2="168.42" y2="772.2" stroke="#3a3a3a" stroke-width="0.95"/>
<text x="159.63" y="784.9" font-size="12.9" textLength="17.41" lengthAdjust="spacingAndGlyphs" stroke="#1a1a1a" stroke-width="0.1">256</text>
<line x1="182.9" y1="765.1" x2="182.9" y2="768.4" stroke="#3a3a3a" stroke-width="0.95"/>
<line x1="197.37" y1="765.1" x2="197.37" y2="772.2" stroke="#3a3a3a" stroke-width="0.95"/>
<text x="188.65" y="784.9" font-size="12.9" textLength="17.42" lengthAdjust="spacingAndGlyphs" stroke="#1a1a1a" stroke-width="0.1">512</text>
<line x1="211.85" y1="765.1" x2="211.85" y2="768.4" stroke="#3a3a3a" stroke-width="0.95"/>
<line x1="226.33" y1="765.1" x2="226.33" y2="772.2" stroke="#3a3a3a" stroke-width="0.95"/>
<text x="214.3" y="784.9" font-size="12.9" textLength="23.22" lengthAdjust="spacingAndGlyphs" stroke="#1a1a1a" stroke-width="0.1">1024</text>
<line x1="240.81" y1="765.1" x2="240.81" y2="768.4" stroke="#3a3a3a" stroke-width="0.95"/>
<line x1="255.28" y1="765.1" x2="255.28" y2="772.2" stroke="#3a3a3a" stroke-width="0.95"/>
<text x="243.63" y="784.9" font-size="12.9" textLength="23.22" lengthAdjust="spacingAndGlyphs" stroke="#1a1a1a" stroke-width="0.1">2048</text>
<line x1="269.76" y1="765.1" x2="269.76" y2="768.4" stroke="#3a3a3a" stroke-width="0.95"/>
<line x1="284.24" y1="765.1" x2="284.24" y2="772.2" stroke="#3a3a3a" stroke-width="0.95"/>
<text x="272.69" y="784.9" font-size="12.9" textLength="23.22" lengthAdjust="spacingAndGlyphs" stroke="#1a1a1a" stroke-width="0.1">4096</text>
<text x="140.56" y="801.6" font-size="11.6" textLength="36.92" lengthAdjust="spacingAndGlyphs" stroke="#1a1a1a" stroke-width="0.1">Number</text>
<text x="182.53" y="801.6" font-size="11.6" textLength="8.17" lengthAdjust="spacingAndGlyphs" stroke="#1a1a1a" stroke-width="0.1">of</text>
<text x="196.06" y="801.6" font-size="11.6" textLength="36.35" lengthAdjust="spacingAndGlyphs" stroke="#1a1a1a" stroke-width="0.1">Vertices</text>
<text x="-0.01" y="819.2" font-size="12.2" textLength="40.22" lengthAdjust="spacingAndGlyphs" stroke="#1a1a1a" stroke-width="0.1">#cliques</text>
<text x="4.26" y="837.1" font-size="12.2" textLength="36.08" lengthAdjust="spacingAndGlyphs" stroke="#1a1a1a" stroke-width="0.1">density</text>
<text x="46.86" y="819.5" font-size="12.6" textLength="11.16" lengthAdjust="spacingAndGlyphs" stroke="#1a1a1a" stroke-width="0.1">11</text>
<text x="75.73" y="819.5" font-size="12.6" textLength="11.59" lengthAdjust="spacingAndGlyphs" stroke="#1a1a1a" stroke-width="0.1">23</text>
<text x="104.82" y="819.5" font-size="12.6" textLength="11.59" lengthAdjust="spacingAndGlyphs" stroke="#1a1a1a" stroke-width="0.1">48</text>
<text x="133.65" y="819.5" font-size="12.6" textLength="11.59" lengthAdjust="spacingAndGlyphs" stroke="#1a1a1a" stroke-width="0.1">97</text>
<text x="159.45" y="819.5" font-size="12.6" textLength="17.39" lengthAdjust="spacingAndGlyphs" stroke="#1a1a1a" stroke-width="0.1">193</text>
<text x="188.72" y="819.5" font-size="12.6" textLength="17.39" lengthAdjust="spacingAndGlyphs" stroke="#1a1a1a" stroke-width="0.1">392</text>
<text x="217.35" y="819.5" font-size="12.6" textLength="17.39" lengthAdjust="spacingAndGlyphs" stroke="#1a1a1a" stroke-width="0.1">774</text>
<text x="243.27" y="819.5" font-size="12.6" textLength="23.18" lengthAdjust="spacingAndGlyphs" stroke="#1a1a1a" stroke-width="0.1">1554</text>
<text x="272.82" y="819.5" font-size="12.6" textLength="22.75" lengthAdjust="spacingAndGlyphs" stroke="#1a1a1a" stroke-width="0.1">3113</text>
<text x="42.24" y="837.6" font-size="12.6" textLength="20.73" lengthAdjust="spacingAndGlyphs" stroke="#1a1a1a" stroke-width="0.1">0.28</text>
<text x="71.21" y="837.6" font-size="12.6" textLength="20.73" lengthAdjust="spacingAndGlyphs" stroke="#1a1a1a" stroke-width="0.1">0.15</text>
<text x="100.15" y="837.6" font-size="12.6" textLength="20.73" lengthAdjust="spacingAndGlyphs" stroke="#1a1a1a" stroke-width="0.1">0.08</text>
<text x="129.12" y="837.6" font-size="12.6" textLength="20.73" lengthAdjust="spacingAndGlyphs" stroke="#1a1a1a" stroke-width="0.1">0.05</text>
<text x="158.07" y="837.6" font-size="12.6" textLength="20.73" lengthAdjust="spacingAndGlyphs" stroke="#1a1a1a" stroke-width="0.1">0.03</text>
<text x="187.12" y="837.6" font-size="12.6" textLength="20.73" lengthAdjust="spacingAndGlyphs" stroke="#1a1a1a" stroke-width="0.1">0.02</text>
<text x="216.07" y="837.6" font-size="12.6" textLength="20.73" lengthAdjust="spacingAndGlyphs" stroke="#1a1a1a" stroke-width="0.1">0.02</text>
<text x="245.05" y="837.6" font-size="12.6" textLength="20.73" lengthAdjust="spacingAndGlyphs" stroke="#1a1a1a" stroke-width="0.1">0.01</text>
<text x="274.01" y="837.6" font-size="12.6" textLength="20.73" lengthAdjust="spacingAndGlyphs" stroke="#1a1a1a" stroke-width="0.1">0.01</text>
<text x="2.64" y="642.4" font-size="12.2" textLength="34.22" lengthAdjust="spacingAndGlyphs" fill="#d8535f" stroke="#d8535f" stroke-width="0.1">timeout</text>
<line x1="284.24" y1="757.87" x2="284.24" y2="753.17" stroke="#3f9d8f" stroke-width="0.85" opacity="0.8"/>
<line x1="280.94" y1="757.87" x2="287.54" y2="757.87" stroke="#3f9d8f" stroke-width="0.85" opacity="0.8"/>
<line x1="280.94" y1="753.17" x2="287.54" y2="753.17" stroke="#3f9d8f" stroke-width="0.85" opacity="0.8"/>
<polyline points="52.6,765.1 81.56,765.1 110.51,765.1 139.47,765.1 168.42,765.1 197.37,765.1 226.33,765.1 255.28,764.38 284.24,755.7" fill="none" stroke="#3f9d8f" stroke-width="1.35" stroke-linejoin="round" opacity="0.82"/>
<circle cx="52.6" cy="765.1" r="2.2" fill="#3f9d8f" opacity="0.82"/>
<circle cx="81.56" cy="765.1" r="2.2" fill="#3f9d8f" opacity="0.82"/>
<circle cx="110.51" cy="765.1" r="2.2" fill="#3f9d8f" opacity="0.82"/>
<circle cx="139.47" cy="765.1" r="2.2" fill="#3f9d8f" opacity="0.82"/>
<circle cx="168.42" cy="765.1" r="2.2" fill="#3f9d8f" opacity="0.82"/>
<circle cx="197.37" cy="765.1" r="2.2" fill="#3f9d8f" opacity="0.82"/>
<circle cx="226.33" cy="765.1" r="2.2" fill="#3f9d8f" opacity="0.82"/>
<circle cx="255.28" cy="764.38" r="2.2" fill="#3f9d8f" opacity="0.82"/>
<circle cx="284.24" cy="755.7" r="2.2" fill="#3f9d8f" opacity="0.82"/>
<line x1="42.45" y1="638.54" x2="284.24" y2="638.54" stroke="#d8535f" stroke-width="1" stroke-dasharray="4.1 2.15" opacity="0.85"/>
<line x1="110.51" y1="765.1" x2="110.51" y2="638.54" stroke="#fbc22c" stroke-width="0.85" opacity="0.8"/>
<line x1="107.21" y1="765.1" x2="113.81" y2="765.1" stroke="#fbc22c" stroke-width="0.85" opacity="0.8"/>
<line x1="107.21" y1="638.54" x2="113.81" y2="638.54" stroke="#fbc22c" stroke-width="0.85" opacity="0.8"/>
<line x1="139.47" y1="765.1" x2="139.47" y2="638.54" stroke="#fbc22c" stroke-width="0.85" opacity="0.8"/>
<line x1="136.16" y1="765.1" x2="142.77" y2="765.1" stroke="#fbc22c" stroke-width="0.85" opacity="0.8"/>
<line x1="136.16" y1="638.54" x2="142.77" y2="638.54" stroke="#fbc22c" stroke-width="0.85" opacity="0.8"/>
<polyline points="52.6,765.1 81.56,765.1 110.51,753.17 139.47,687.36 168.42,638.54 197.37,638.54 226.33,638.54 255.28,638.54 284.24,638.54" fill="none" stroke="#fbc22c" stroke-width="1.35" stroke-linejoin="round" opacity="0.82"/>
<circle cx="52.6" cy="765.1" r="2.2" fill="#fbc22c" opacity="0.82"/>
<circle cx="81.56" cy="765.1" r="2.2" fill="#fbc22c" opacity="0.82"/>
<circle cx="110.51" cy="753.17" r="2.2" fill="#fbc22c" opacity="0.82"/>
<circle cx="139.47" cy="687.36" r="2.2" fill="#fbc22c" opacity="0.82"/>
<circle cx="168.42" cy="638.54" r="2.2" fill="#fbc22c" opacity="0.82"/>
<circle cx="197.37" cy="638.54" r="2.2" fill="#fbc22c" opacity="0.82"/>
<circle cx="226.33" cy="638.54" r="2.2" fill="#fbc22c" opacity="0.82"/>
<circle cx="255.28" cy="638.54" r="2.2" fill="#fbc22c" opacity="0.82"/>
<circle cx="284.24" cy="638.54" r="2.2" fill="#fbc22c" opacity="0.82"/>
<line x1="226.33" y1="751" x2="226.33" y2="661.32" stroke="#5c3a6e" stroke-width="0.85" opacity="0.8"/>
<line x1="223.03" y1="751" x2="229.63" y2="751" stroke="#5c3a6e" stroke-width="0.85" opacity="0.8"/>
<line x1="223.03" y1="661.32" x2="229.63" y2="661.32" stroke="#5c3a6e" stroke-width="0.85" opacity="0.8"/>
<polyline points="52.6,765.1 81.56,765.1 110.51,765.1 139.47,765.1 168.42,765.1 197.37,764.02 226.33,720.98 255.28,638.54 284.24,638.54" fill="none" stroke="#5c3a6e" stroke-width="1.35" stroke-linejoin="round" opacity="0.82"/>
<circle cx="52.6" cy="765.1" r="2.2" fill="#5c3a6e" opacity="0.82"/>
<circle cx="81.56" cy="765.1" r="2.2" fill="#5c3a6e" opacity="0.82"/>
<circle cx="110.51" cy="765.1" r="2.2" fill="#5c3a6e" opacity="0.82"/>
<circle cx="139.47" cy="765.1" r="2.2" fill="#5c3a6e" opacity="0.82"/>
<circle cx="168.42" cy="765.1" r="2.2" fill="#5c3a6e" opacity="0.82"/>
<circle cx="197.37" cy="764.02" r="2.2" fill="#5c3a6e" opacity="0.82"/>
<circle cx="226.33" cy="720.98" r="2.2" fill="#5c3a6e" opacity="0.82"/>
<circle cx="255.28" cy="638.54" r="2.2" fill="#5c3a6e" opacity="0.82"/>
<circle cx="284.24" cy="638.54" r="2.2" fill="#5c3a6e" opacity="0.82"/>
<line x1="168.42" y1="765.1" x2="168.42" y2="638.54" stroke="#1283ab" stroke-width="0.85" opacity="0.8"/>
<line x1="165.12" y1="765.1" x2="171.72" y2="765.1" stroke="#1283ab" stroke-width="0.85" opacity="0.8"/>
<line x1="165.12" y1="638.54" x2="171.72" y2="638.54" stroke="#1283ab" stroke-width="0.85" opacity="0.8"/>
<polyline points="52.6,765.1 81.56,765.1 110.51,765.1 139.47,764.38 168.42,693.14 197.37,638.54 226.33,638.54 255.28,638.54 284.24,638.54" fill="none" stroke="#1283ab" stroke-width="1.35" stroke-linejoin="round" opacity="0.82"/>
<circle cx="52.6" cy="765.1" r="2.2" fill="#1283ab" opacity="0.82"/>
<circle cx="81.56" cy="765.1" r="2.2" fill="#1283ab" opacity="0.82"/>
<circle cx="110.51" cy="765.1" r="2.2" fill="#1283ab" opacity="0.82"/>
<circle cx="139.47" cy="764.38" r="2.2" fill="#1283ab" opacity="0.82"/>
<circle cx="168.42" cy="693.14" r="2.2" fill="#1283ab" opacity="0.82"/>
<circle cx="197.37" cy="638.54" r="2.2" fill="#1283ab" opacity="0.82"/>
<circle cx="226.33" cy="638.54" r="2.2" fill="#1283ab" opacity="0.82"/>
<circle cx="255.28" cy="638.54" r="2.2" fill="#1283ab" opacity="0.82"/>
<circle cx="284.24" cy="638.54" r="2.2" fill="#1283ab" opacity="0.82"/>
<text x="286.19" y="629.8" font-size="12" textLength="14.28" lengthAdjust="spacingAndGlyphs" fill="#5c3a6e" stroke="#5c3a6e" stroke-width="0.1">am</text>
<text x="290.43" y="642.4" font-size="12" textLength="6.01" lengthAdjust="spacingAndGlyphs" fill="#1283ab" stroke="#1283ab" stroke-width="0.1">li</text>
<text x="287.94" y="652.3" font-size="11.8" textLength="10.96" lengthAdjust="spacingAndGlyphs" fill="#fbc22c" stroke="#fbc22c" stroke-width="0.1">tw</text>
<text x="287.91" y="757.5" font-size="11.8" textLength="11.1" lengthAdjust="spacingAndGlyphs" fill="#3f9d8f" stroke="#3f9d8f" stroke-width="0.1">cp</text>
<rect x="355.03" y="569.93" width="12.84" height="13.97" fill="#d3d3d3"/>
<text x="361.45" y="580.7" font-size="12.3" text-anchor="middle" stroke="#1a1a1a" stroke-width="0.12">F</text>
<text x="376.42" y="580.9" font-size="13.2" textLength="134.78" lengthAdjust="spacingAndGlyphs" stroke="#1a1a1a" stroke-width="0.1">Perfect Elimination Order,</text>
<text x="514.72" y="580.9" font-size="13.86" textLength="6.15" lengthAdjust="spacingAndGlyphs" font-style="italic" stroke="#1a1a1a" stroke-width="0.1">k</text>
<text x="525" y="580.9" font-size="13.2" textLength="10.19" lengthAdjust="spacingAndGlyphs" stroke="#1a1a1a" stroke-width="0.1">=</text>
<text x="538.95" y="580.9" font-size="13.2" textLength="6.13" lengthAdjust="spacingAndGlyphs" stroke="#1a1a1a" stroke-width="0.1">4</text>
<text x="347.88" y="603.2" font-size="11.6" textLength="64.92" lengthAdjust="spacing" stroke="#1a1a1a" stroke-width="0.1">Average Time</text>
<text x="354.66" y="615.8" font-size="11.6" textLength="50.66" lengthAdjust="spacing" stroke="#1a1a1a" stroke-width="0.1">in Minutes</text>
<line x1="379.75" y1="765.7" x2="379.75" y2="625.1" stroke="#1e1e1e" stroke-width="1.25"/>
<path d="M379.75 621.1 L377.45 627.1 L379.75 626.3 L382.05 627.1 Z" fill="#1e1e1e"/>
<line x1="379.15" y1="765.1" x2="635" y2="765.1" stroke="#1e1e1e" stroke-width="1.25"/>
<path d="M639.4 765.1 L633.5 762.8 L634.3 765.1 L633.5 767.4 Z" fill="#1e1e1e"/>
<line x1="376.2" y1="756.06" x2="379.75" y2="756.06" stroke="#1e1e1e" stroke-width="1.1"/>
<line x1="372.5" y1="747.02" x2="379.75" y2="747.02" stroke="#1e1e1e" stroke-width="1.1"/>
<text x="362.69" y="751.22" font-size="12.9" textLength="5.93" lengthAdjust="spacingAndGlyphs" stroke="#1a1a1a" stroke-width="0.1">5</text>
<line x1="376.2" y1="737.98" x2="379.75" y2="737.98" stroke="#1e1e1e" stroke-width="1.1"/>
<line x1="372.5" y1="728.94" x2="379.75" y2="728.94" stroke="#1e1e1e" stroke-width="1.1"/>
<text x="356.73" y="733.14" font-size="12.9" textLength="11.87" lengthAdjust="spacingAndGlyphs" stroke="#1a1a1a" stroke-width="0.1">10</text>
<line x1="376.2" y1="719.9" x2="379.75" y2="719.9" stroke="#1e1e1e" stroke-width="1.1"/>
<line x1="372.5" y1="710.86" x2="379.75" y2="710.86" stroke="#1e1e1e" stroke-width="1.1"/>
<text x="356.76" y="715.06" font-size="12.9" textLength="11.87" lengthAdjust="spacingAndGlyphs" stroke="#1a1a1a" stroke-width="0.1">15</text>
<line x1="376.2" y1="701.82" x2="379.75" y2="701.82" stroke="#1e1e1e" stroke-width="1.1"/>
<line x1="372.5" y1="692.78" x2="379.75" y2="692.78" stroke="#1e1e1e" stroke-width="1.1"/>
<text x="356.73" y="696.98" font-size="12.9" textLength="11.87" lengthAdjust="spacingAndGlyphs" stroke="#1a1a1a" stroke-width="0.1">20</text>
<line x1="376.2" y1="683.74" x2="379.75" y2="683.74" stroke="#1e1e1e" stroke-width="1.1"/>
<line x1="372.5" y1="674.7" x2="379.75" y2="674.7" stroke="#1e1e1e" stroke-width="1.1"/>
<text x="356.76" y="678.9" font-size="12.9" textLength="11.87" lengthAdjust="spacingAndGlyphs" stroke="#1a1a1a" stroke-width="0.1">25</text>
<line x1="376.2" y1="665.66" x2="379.75" y2="665.66" stroke="#1e1e1e" stroke-width="1.1"/>
<line x1="372.5" y1="656.62" x2="379.75" y2="656.62" stroke="#1e1e1e" stroke-width="1.1"/>
<text x="356.73" y="660.82" font-size="12.9" textLength="11.87" lengthAdjust="spacingAndGlyphs" stroke="#1a1a1a" stroke-width="0.1">30</text>
<line x1="390.6" y1="765.1" x2="390.6" y2="772.2" stroke="#3a3a3a" stroke-width="0.95"/>
<text x="384.46" y="784.9" font-size="12.9" textLength="11.61" lengthAdjust="spacingAndGlyphs" stroke="#1a1a1a" stroke-width="0.1">16</text>
<line x1="405.08" y1="765.1" x2="405.08" y2="768.4" stroke="#3a3a3a" stroke-width="0.95"/>
<line x1="419.56" y1="765.1" x2="419.56" y2="772.2" stroke="#3a3a3a" stroke-width="0.95"/>
<text x="413.79" y="784.9" font-size="12.9" textLength="11.61" lengthAdjust="spacingAndGlyphs" stroke="#1a1a1a" stroke-width="0.1">32</text>
<line x1="434.03" y1="765.1" x2="434.03" y2="768.4" stroke="#3a3a3a" stroke-width="0.95"/>
<line x1="448.51" y1="765.1" x2="448.51" y2="772.2" stroke="#3a3a3a" stroke-width="0.95"/>
<text x="442.55" y="784.9" font-size="12.9" textLength="11.61" lengthAdjust="spacingAndGlyphs" stroke="#1a1a1a" stroke-width="0.1">64</text>
<line x1="462.99" y1="765.1" x2="462.99" y2="768.4" stroke="#3a3a3a" stroke-width="0.95"/>
<line x1="477.47" y1="765.1" x2="477.47" y2="772.2" stroke="#3a3a3a" stroke-width="0.95"/>
<text x="468.47" y="784.9" font-size="12.9" textLength="17.42" lengthAdjust="spacingAndGlyphs" stroke="#1a1a1a" stroke-width="0.1">128</text>
<line x1="491.94" y1="765.1" x2="491.94" y2="768.4" stroke="#3a3a3a" stroke-width="0.95"/>
<line x1="506.42" y1="765.1" x2="506.42" y2="772.2" stroke="#3a3a3a" stroke-width="0.95"/>
<text x="497.63" y="784.9" font-size="12.9" textLength="17.42" lengthAdjust="spacingAndGlyphs" stroke="#1a1a1a" stroke-width="0.1">256</text>
<line x1="520.9" y1="765.1" x2="520.9" y2="768.4" stroke="#3a3a3a" stroke-width="0.95"/>
<line x1="535.38" y1="765.1" x2="535.38" y2="772.2" stroke="#3a3a3a" stroke-width="0.95"/>
<text x="526.65" y="784.9" font-size="12.9" textLength="17.41" lengthAdjust="spacingAndGlyphs" stroke="#1a1a1a" stroke-width="0.1">512</text>
<line x1="549.85" y1="765.1" x2="549.85" y2="768.4" stroke="#3a3a3a" stroke-width="0.95"/>
<line x1="564.33" y1="765.1" x2="564.33" y2="772.2" stroke="#3a3a3a" stroke-width="0.95"/>
<text x="552.3" y="784.9" font-size="12.9" textLength="23.22" lengthAdjust="spacingAndGlyphs" stroke="#1a1a1a" stroke-width="0.1">1024</text>
<line x1="578.81" y1="765.1" x2="578.81" y2="768.4" stroke="#3a3a3a" stroke-width="0.95"/>
<line x1="593.29" y1="765.1" x2="593.29" y2="772.2" stroke="#3a3a3a" stroke-width="0.95"/>
<text x="581.63" y="784.9" font-size="12.9" textLength="23.22" lengthAdjust="spacingAndGlyphs" stroke="#1a1a1a" stroke-width="0.1">2048</text>
<line x1="607.76" y1="765.1" x2="607.76" y2="768.4" stroke="#3a3a3a" stroke-width="0.95"/>
<line x1="622.24" y1="765.1" x2="622.24" y2="772.2" stroke="#3a3a3a" stroke-width="0.95"/>
<text x="610.69" y="784.9" font-size="12.9" textLength="23.22" lengthAdjust="spacingAndGlyphs" stroke="#1a1a1a" stroke-width="0.1">4096</text>
<text x="478.56" y="801.6" font-size="11.6" textLength="36.92" lengthAdjust="spacingAndGlyphs" stroke="#1a1a1a" stroke-width="0.1">Number</text>
<text x="520.53" y="801.6" font-size="11.6" textLength="8.17" lengthAdjust="spacingAndGlyphs" stroke="#1a1a1a" stroke-width="0.1">of</text>
<text x="534.06" y="801.6" font-size="11.6" textLength="36.35" lengthAdjust="spacingAndGlyphs" stroke="#1a1a1a" stroke-width="0.1">Vertices</text>
<text x="337.99" y="819.2" font-size="12.2" textLength="40.22" lengthAdjust="spacingAndGlyphs" stroke="#1a1a1a" stroke-width="0.1">#cliques</text>
<text x="342.26" y="837.1" font-size="12.2" textLength="36.08" lengthAdjust="spacingAndGlyphs" stroke="#1a1a1a" stroke-width="0.1">density</text>
<text x="387.5" y="819.5" font-size="12.6" textLength="5.8" lengthAdjust="spacingAndGlyphs" stroke="#1a1a1a" stroke-width="0.1">7</text>
<text x="413.43" y="819.5" font-size="12.6" textLength="11.59" lengthAdjust="spacingAndGlyphs" stroke="#1a1a1a" stroke-width="0.1">17</text>
<text x="442.67" y="819.5" font-size="12.6" textLength="11.59" lengthAdjust="spacingAndGlyphs" stroke="#1a1a1a" stroke-width="0.1">33</text>
<text x="471.65" y="819.5" font-size="12.6" textLength="11.59" lengthAdjust="spacingAndGlyphs" stroke="#1a1a1a" stroke-width="0.1">69</text>
<text x="497.44" y="819.5" font-size="12.6" textLength="17.39" lengthAdjust="spacingAndGlyphs" stroke="#1a1a1a" stroke-width="0.1">140</text>
<text x="526.59" y="819.5" font-size="12.6" textLength="17.39" lengthAdjust="spacingAndGlyphs" stroke="#1a1a1a" stroke-width="0.1">276</text>
<text x="555.52" y="819.5" font-size="12.6" textLength="17.39" lengthAdjust="spacingAndGlyphs" stroke="#1a1a1a" stroke-width="0.1">560</text>
<text x="581.75" y="819.5" font-size="12.6" textLength="22.75" lengthAdjust="spacingAndGlyphs" stroke="#1a1a1a" stroke-width="0.1">1121</text>
<text x="610.62" y="819.5" font-size="12.6" textLength="23.18" lengthAdjust="spacingAndGlyphs" stroke="#1a1a1a" stroke-width="0.1">2219</text>
<text x="380.19" y="837.6" font-size="12.6" textLength="20.73" lengthAdjust="spacingAndGlyphs" stroke="#1a1a1a" stroke-width="0.1">0.57</text>
<text x="409.15" y="837.6" font-size="12.6" textLength="20.73" lengthAdjust="spacingAndGlyphs" stroke="#1a1a1a" stroke-width="0.1">0.37</text>
<text x="438.16" y="837.6" font-size="12.6" textLength="20.73" lengthAdjust="spacingAndGlyphs" stroke="#1a1a1a" stroke-width="0.1">0.29</text>
<text x="467.12" y="837.6" font-size="12.6" textLength="20.73" lengthAdjust="spacingAndGlyphs" stroke="#1a1a1a" stroke-width="0.1">0.23</text>
<text x="496.06" y="837.6" font-size="12.6" textLength="20.73" lengthAdjust="spacingAndGlyphs" stroke="#1a1a1a" stroke-width="0.1">0.18</text>
<text x="524.97" y="837.6" font-size="12.6" textLength="20.73" lengthAdjust="spacingAndGlyphs" stroke="#1a1a1a" stroke-width="0.1">0.17</text>
<text x="553.92" y="837.6" font-size="12.6" textLength="20.73" lengthAdjust="spacingAndGlyphs" stroke="#1a1a1a" stroke-width="0.1">0.17</text>
<text x="582.88" y="837.6" font-size="12.6" textLength="20.73" lengthAdjust="spacingAndGlyphs" stroke="#1a1a1a" stroke-width="0.1">0.16</text>
<text x="611.83" y="837.6" font-size="12.6" textLength="20.73" lengthAdjust="spacingAndGlyphs" stroke="#1a1a1a" stroke-width="0.1">0.16</text>
<text x="340.64" y="642.4" font-size="12.2" textLength="34.22" lengthAdjust="spacingAndGlyphs" fill="#d8535f" stroke="#d8535f" stroke-width="0.1">timeout</text>
<line x1="622.24" y1="667.11" x2="622.24" y2="638.54" stroke="#3f9d8f" stroke-width="0.85" opacity="0.8"/>
<line x1="618.94" y1="667.11" x2="625.54" y2="667.11" stroke="#3f9d8f" stroke-width="0.85" opacity="0.8"/>
<line x1="618.94" y1="638.54" x2="625.54" y2="638.54" stroke="#3f9d8f" stroke-width="0.85" opacity="0.8"/>
<polyline points="390.6,765.1 419.56,765.1 448.51,765.1 477.47,765.1 506.42,765.1 535.38,765.1 564.33,764.02 593.29,757.51 622.24,647.58" fill="none" stroke="#3f9d8f" stroke-width="1.35" stroke-linejoin="round" opacity="0.82"/>
<circle cx="390.6" cy="765.1" r="2.2" fill="#3f9d8f" opacity="0.82"/>
<circle cx="419.56" cy="765.1" r="2.2" fill="#3f9d8f" opacity="0.82"/>
<circle cx="448.51" cy="765.1" r="2.2" fill="#3f9d8f" opacity="0.82"/>
<circle cx="477.47" cy="765.1" r="2.2" fill="#3f9d8f" opacity="0.82"/>
<circle cx="506.42" cy="765.1" r="2.2" fill="#3f9d8f" opacity="0.82"/>
<circle cx="535.38" cy="765.1" r="2.2" fill="#3f9d8f" opacity="0.82"/>
<circle cx="564.33" cy="764.02" r="2.2" fill="#3f9d8f" opacity="0.82"/>
<circle cx="593.29" cy="757.51" r="2.2" fill="#3f9d8f" opacity="0.82"/>
<circle cx="622.24" cy="647.58" r="2.2" fill="#3f9d8f" opacity="0.82"/>
<line x1="380.45" y1="638.54" x2="622.24" y2="638.54" stroke="#d8535f" stroke-width="1" stroke-dasharray="4.1 2.15" opacity="0.85"/>
<line x1="419.56" y1="765.1" x2="419.56" y2="638.54" stroke="#fbc22c" stroke-width="0.85" opacity="0.8"/>
<line x1="416.25" y1="765.1" x2="422.86" y2="765.1" stroke="#fbc22c" stroke-width="0.85" opacity="0.8"/>
<line x1="416.25" y1="638.54" x2="422.86" y2="638.54" stroke="#fbc22c" stroke-width="0.85" opacity="0.8"/>
<polyline points="390.6,765.1 419.56,713.03 448.51,638.54 477.47,638.54 506.42,638.54 535.38,638.54 564.33,638.54 593.29,638.54 622.24,638.54" fill="none" stroke="#fbc22c" stroke-width="1.35" stroke-linejoin="round" opacity="0.82"/>
<circle cx="390.6" cy="765.1" r="2.2" fill="#fbc22c" opacity="0.82"/>
<circle cx="419.56" cy="713.03" r="2.2" fill="#fbc22c" opacity="0.82"/>
<circle cx="448.51" cy="638.54" r="2.2" fill="#fbc22c" opacity="0.82"/>
<circle cx="477.47" cy="638.54" r="2.2" fill="#fbc22c" opacity="0.82"/>
<circle cx="506.42" cy="638.54" r="2.2" fill="#fbc22c" opacity="0.82"/>
<circle cx="535.38" cy="638.54" r="2.2" fill="#fbc22c" opacity="0.82"/>
<circle cx="564.33" cy="638.54" r="2.2" fill="#fbc22c" opacity="0.82"/>
<circle cx="593.29" cy="638.54" r="2.2" fill="#fbc22c" opacity="0.82"/>
<circle cx="622.24" cy="638.54" r="2.2" fill="#fbc22c" opacity="0.82"/>
<line x1="506.42" y1="764.02" x2="506.42" y2="758.59" stroke="#5c3a6e" stroke-width="0.85" opacity="0.8"/>
<line x1="503.12" y1="764.02" x2="509.72" y2="764.02" stroke="#5c3a6e" stroke-width="0.85" opacity="0.8"/>
<line x1="503.12" y1="758.59" x2="509.72" y2="758.59" stroke="#5c3a6e" stroke-width="0.85" opacity="0.8"/>
<polyline points="390.6,765.1 419.56,765.1 448.51,765.1 477.47,765.1 506.42,761.3 535.38,638.54 564.33,638.54 593.29,638.54 622.24,638.54" fill="none" stroke="#5c3a6e" stroke-width="1.35" stroke-linejoin="round" opacity="0.82"/>
<circle cx="390.6" cy="765.1" r="2.2" fill="#5c3a6e" opacity="0.82"/>
<circle cx="419.56" cy="765.1" r="2.2" fill="#5c3a6e" opacity="0.82"/>
<circle cx="448.51" cy="765.1" r="2.2" fill="#5c3a6e" opacity="0.82"/>
<circle cx="477.47" cy="765.1" r="2.2" fill="#5c3a6e" opacity="0.82"/>
<circle cx="506.42" cy="761.3" r="2.2" fill="#5c3a6e" opacity="0.82"/>
<circle cx="535.38" cy="638.54" r="2.2" fill="#5c3a6e" opacity="0.82"/>
<circle cx="564.33" cy="638.54" r="2.2" fill="#5c3a6e" opacity="0.82"/>
<circle cx="593.29" cy="638.54" r="2.2" fill="#5c3a6e" opacity="0.82"/>
<circle cx="622.24" cy="638.54" r="2.2" fill="#5c3a6e" opacity="0.82"/>
<line x1="448.51" y1="765.1" x2="448.51" y2="638.54" stroke="#1283ab" stroke-width="0.85" opacity="0.8"/>
<line x1="445.21" y1="765.1" x2="451.81" y2="765.1" stroke="#1283ab" stroke-width="0.85" opacity="0.8"/>
<line x1="445.21" y1="638.54" x2="451.81" y2="638.54" stroke="#1283ab" stroke-width="0.85" opacity="0.8"/>
<polyline points="390.6,765.1 419.56,765.1 448.51,682.29 477.47,638.54 506.42,638.54 535.38,638.54 564.33,638.54 593.29,638.54 622.24,638.54" fill="none" stroke="#1283ab" stroke-width="1.35" stroke-linejoin="round" opacity="0.82"/>
<circle cx="390.6" cy="765.1" r="2.2" fill="#1283ab" opacity="0.82"/>
<circle cx="419.56" cy="765.1" r="2.2" fill="#1283ab" opacity="0.82"/>
<circle cx="448.51" cy="682.29" r="2.2" fill="#1283ab" opacity="0.82"/>
<circle cx="477.47" cy="638.54" r="2.2" fill="#1283ab" opacity="0.82"/>
<circle cx="506.42" cy="638.54" r="2.2" fill="#1283ab" opacity="0.82"/>
<circle cx="535.38" cy="638.54" r="2.2" fill="#1283ab" opacity="0.82"/>
<circle cx="564.33" cy="638.54" r="2.2" fill="#1283ab" opacity="0.82"/>
<circle cx="593.29" cy="638.54" r="2.2" fill="#1283ab" opacity="0.82"/>
<circle cx="622.24" cy="638.54" r="2.2" fill="#1283ab" opacity="0.82"/>
<text x="624.19" y="629.8" font-size="12" textLength="14.28" lengthAdjust="spacingAndGlyphs" fill="#5c3a6e" stroke="#5c3a6e" stroke-width="0.1">am</text>
<text x="628.43" y="642.4" font-size="12" textLength="6.01" lengthAdjust="spacingAndGlyphs" fill="#1283ab" stroke="#1283ab" stroke-width="0.1">li</text>
<text x="625.94" y="652.7" font-size="11.8" textLength="10.96" lengthAdjust="spacingAndGlyphs" fill="#fbc22c" stroke="#fbc22c" stroke-width="0.1">tw</text>
<text x="625.91" y="660.5" font-size="11.8" textLength="11.1" lengthAdjust="spacingAndGlyphs" fill="#3f9d8f" stroke="#3f9d8f" stroke-width="0.1">cp</text>
</svg></body></html>
